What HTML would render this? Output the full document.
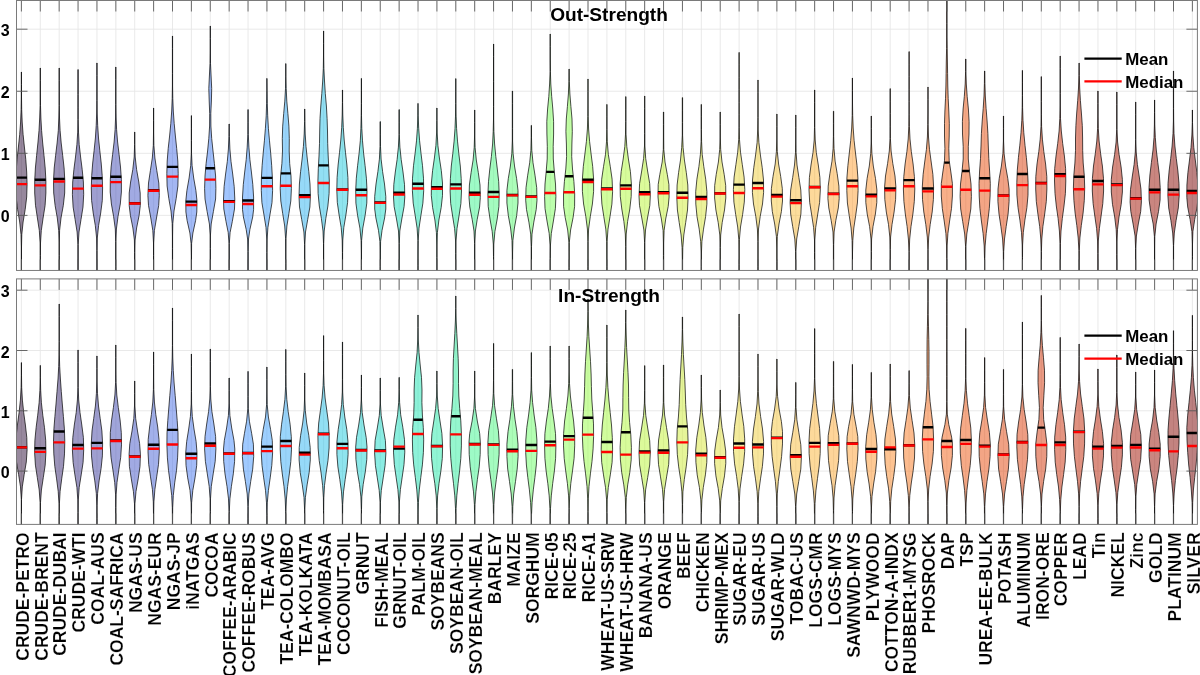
<!DOCTYPE html>
<html><head><meta charset="utf-8"><style>
html,body{margin:0;padding:0;background:#fff;width:1200px;height:675px;overflow:hidden}
svg{display:block;will-change:transform}
text{font-family:"Liberation Sans",sans-serif;font-weight:bold;fill:#000;stroke:#fff;stroke-width:0.2px;paint-order:normal}
.yt{stroke:none;font-size:16px;text-anchor:end}
.xl{font-size:17.5px;text-anchor:end}
.ti{stroke:none;font-size:19.1px;text-anchor:middle}
.lg{stroke:none;font-size:16.9px}
</style></head><body>
<svg width="1200" height="675" viewBox="0 0 1200 675">
<clipPath id="clipT"><rect x="16.5" y="0.5" width="1180.9" height="269.95"/></clipPath>
<path d="M21.40 0.50V270.45M40.29 0.50V270.45M59.17 0.50V270.45M78.06 0.50V270.45M96.95 0.50V270.45M115.84 0.50V270.45M134.72 0.50V270.45M153.61 0.50V270.45M172.50 0.50V270.45M191.38 0.50V270.45M210.27 0.50V270.45M229.16 0.50V270.45M248.04 0.50V270.45M266.93 0.50V270.45M285.82 0.50V270.45M304.70 0.50V270.45M323.59 0.50V270.45M342.48 0.50V270.45M361.37 0.50V270.45M380.25 0.50V270.45M399.14 0.50V270.45M418.03 0.50V270.45M436.91 0.50V270.45M455.80 0.50V270.45M474.69 0.50V270.45M493.57 0.50V270.45M512.46 0.50V270.45M531.35 0.50V270.45M550.24 0.50V270.45M569.12 0.50V270.45M588.01 0.50V270.45M606.90 0.50V270.45M625.78 0.50V270.45M644.67 0.50V270.45M663.56 0.50V270.45M682.45 0.50V270.45M701.33 0.50V270.45M720.22 0.50V270.45M739.11 0.50V270.45M757.99 0.50V270.45M776.88 0.50V270.45M795.77 0.50V270.45M814.65 0.50V270.45M833.54 0.50V270.45M852.43 0.50V270.45M871.31 0.50V270.45M890.20 0.50V270.45M909.09 0.50V270.45M927.98 0.50V270.45M946.86 0.50V270.45M965.75 0.50V270.45M984.64 0.50V270.45M1003.52 0.50V270.45M1022.41 0.50V270.45M1041.30 0.50V270.45M1060.19 0.50V270.45M1079.07 0.50V270.45M1097.96 0.50V270.45M1116.85 0.50V270.45M1135.73 0.50V270.45M1154.62 0.50V270.45M1173.51 0.50V270.45M1192.39 0.50V270.45M16.50 215.40H1197.40M16.50 153.33H1197.40M16.50 91.26H1197.40M16.50 29.19H1197.40" stroke="#e6e6e6" stroke-width="0.9" fill="none"/>
<g clip-path="url(#clipT)">
<path d="M21.5,72.0 L21.5,84.5 L21.5,97.0 L21.7,109.5 L22.2,122.0 L23.1,134.5 L24.4,147.0 L25.8,159.5 L26.7,172.0 L27.1,184.5 L26.7,197.0 L25.2,209.5 L23.1,222.0 L21.8,234.5 L21.5,247.0 L21.5,259.5 L21.5,272.0 L21.5,272.4 L21.3,272.4 L21.3,272.0 L21.3,259.5 L21.3,247.0 L21.0,234.5 L19.7,222.0 L17.6,209.5 L16.1,197.0 L15.7,184.5 L16.1,172.0 L17.0,159.5 L18.4,147.0 L19.7,134.5 L20.6,122.0 L21.1,109.5 L21.3,97.0 L21.3,84.5 L21.3,72.0Z" fill="#30123b" fill-opacity="0.5" stroke="#000" stroke-width="0.7" stroke-linejoin="round"/><line x1="15.83" y1="177.60" x2="26.97" y2="177.60" stroke="#000" stroke-width="2.4"/><line x1="15.73" y1="184.10" x2="27.07" y2="184.10" stroke="#f00" stroke-width="2.4"/>
<path d="M40.4,68.0 L40.4,80.5 L40.4,93.0 L40.5,105.5 L40.9,118.0 L41.6,130.5 L42.7,143.0 L44.0,155.5 L45.2,168.0 L45.9,180.5 L45.9,193.0 L45.1,205.5 L43.1,218.0 L41.3,230.5 L40.5,243.0 L40.4,255.5 L40.4,268.0 L40.4,272.4 L40.2,272.4 L40.2,268.0 L40.2,255.5 L40.1,243.0 L39.3,230.5 L37.4,218.0 L35.5,205.5 L34.7,193.0 L34.7,180.5 L35.4,168.0 L36.6,155.5 L37.9,143.0 L39.0,130.5 L39.7,118.0 L40.1,105.5 L40.2,93.0 L40.2,80.5 L40.2,68.0Z" fill="#351e58" fill-opacity="0.5" stroke="#000" stroke-width="0.7" stroke-linejoin="round"/><line x1="34.73" y1="179.70" x2="45.84" y2="179.70" stroke="#000" stroke-width="2.4"/><line x1="34.63" y1="185.40" x2="45.95" y2="185.40" stroke="#f00" stroke-width="2.4"/>
<path d="M59.3,68.0 L59.3,80.5 L59.3,93.0 L59.3,105.5 L59.5,118.0 L60.1,130.5 L61.2,143.0 L62.7,155.5 L64.1,168.0 L64.8,180.5 L64.7,193.0 L63.3,205.5 L61.0,218.0 L59.6,230.5 L59.3,243.0 L59.3,255.5 L59.3,268.0 L59.3,272.4 L59.1,272.4 L59.1,268.0 L59.1,255.5 L59.1,243.0 L58.7,230.5 L57.3,218.0 L55.1,205.5 L53.7,193.0 L53.5,180.5 L54.2,168.0 L55.6,155.5 L57.1,143.0 L58.3,130.5 L58.8,118.0 L59.1,105.5 L59.1,93.0 L59.1,80.5 L59.1,68.0Z" fill="#392a73" fill-opacity="0.5" stroke="#000" stroke-width="0.7" stroke-linejoin="round"/><line x1="53.59" y1="178.90" x2="64.76" y2="178.90" stroke="#000" stroke-width="2.4"/><line x1="53.53" y1="181.50" x2="64.82" y2="181.50" stroke="#f00" stroke-width="2.4"/>
<path d="M78.2,69.6 L78.2,82.1 L78.2,94.6 L78.2,107.1 L78.2,119.6 L78.5,132.1 L79.2,144.5 L80.6,157.0 L82.2,169.5 L83.4,182.0 L83.7,194.5 L83.0,207.0 L81.0,219.5 L79.0,232.0 L78.2,244.5 L78.2,257.0 L78.2,269.5 L78.2,272.4 L77.9,272.4 L77.9,269.5 L77.9,257.0 L77.9,244.5 L77.1,232.0 L75.1,219.5 L73.1,207.0 L72.4,194.5 L72.7,182.0 L73.9,169.5 L75.5,157.0 L76.9,144.5 L77.7,132.1 L77.9,119.6 L77.9,107.1 L77.9,94.6 L77.9,82.1 L77.9,69.6Z" fill="#3d358b" fill-opacity="0.5" stroke="#000" stroke-width="0.7" stroke-linejoin="round"/><line x1="72.99" y1="177.80" x2="83.13" y2="177.80" stroke="#000" stroke-width="2.4"/><line x1="72.42" y1="188.60" x2="83.70" y2="188.60" stroke="#f00" stroke-width="2.4"/>
<path d="M97.1,63.0 L97.1,75.5 L97.1,88.0 L97.1,100.5 L97.2,113.0 L97.7,125.5 L98.5,138.0 L99.8,150.5 L101.2,163.0 L102.2,175.5 L102.6,188.0 L102.3,200.5 L100.7,213.0 L98.6,225.5 L97.3,238.0 L97.1,250.5 L97.1,263.0 L97.1,272.4 L96.8,272.4 L96.8,263.0 L96.8,250.5 L96.6,238.0 L95.3,225.5 L93.2,213.0 L91.6,200.5 L91.3,188.0 L91.7,175.5 L92.7,163.0 L94.1,150.5 L95.4,138.0 L96.2,125.5 L96.7,113.0 L96.8,100.5 L96.8,88.0 L96.8,75.5 L96.8,63.0Z" fill="#4040a2" fill-opacity="0.5" stroke="#000" stroke-width="0.7" stroke-linejoin="round"/><line x1="91.51" y1="178.20" x2="102.39" y2="178.20" stroke="#000" stroke-width="2.4"/><line x1="91.29" y1="185.80" x2="102.60" y2="185.80" stroke="#f00" stroke-width="2.4"/>
<path d="M115.9,67.0 L115.9,79.5 L115.9,92.0 L115.9,104.5 L116.1,117.0 L116.6,129.5 L117.6,142.0 L119.1,154.5 L120.5,167.0 L121.4,179.5 L121.4,192.0 L120.3,204.0 L118.0,216.5 L116.4,229.0 L115.9,241.5 L115.9,254.0 L115.9,266.5 L115.9,272.4 L115.7,272.4 L115.7,266.5 L115.7,254.0 L115.7,241.5 L115.3,229.0 L113.6,216.5 L111.4,204.0 L110.2,192.0 L110.3,179.5 L111.1,167.0 L112.6,154.5 L114.1,142.0 L115.1,129.5 L115.6,117.0 L115.7,104.5 L115.7,92.0 L115.7,79.5 L115.7,67.0Z" fill="#424bb5" fill-opacity="0.5" stroke="#000" stroke-width="0.7" stroke-linejoin="round"/><line x1="110.37" y1="176.80" x2="121.30" y2="176.80" stroke="#000" stroke-width="2.4"/><line x1="110.20" y1="182.10" x2="121.47" y2="182.10" stroke="#f00" stroke-width="2.4"/>
<path d="M134.8,132.0 L134.8,144.5 L135.2,157.0 L136.6,169.5 L138.8,182.0 L140.2,193.0 L140.3,205.5 L139.1,215.5 L136.6,228.0 L135.1,240.0 L134.8,252.5 L134.8,265.0 L134.8,272.4 L134.6,272.4 L134.6,265.0 L134.6,252.5 L134.4,240.0 L132.9,228.0 L130.4,215.5 L129.2,205.5 L129.2,193.0 L130.6,182.0 L132.8,169.5 L134.2,157.0 L134.6,144.5 L134.6,132.0Z" fill="#4456c7" fill-opacity="0.5" stroke="#000" stroke-width="0.7" stroke-linejoin="round"/><line x1="129.09" y1="203.20" x2="140.35" y2="203.20" stroke="#000" stroke-width="2.4"/><line x1="129.10" y1="203.50" x2="140.34" y2="203.50" stroke="#f00" stroke-width="2.4"/>
<path d="M153.7,108.0 L153.7,120.5 L153.7,133.0 L153.9,145.5 L154.9,158.0 L156.8,170.5 L158.8,183.0 L159.3,195.5 L158.7,205.5 L156.5,218.0 L154.4,230.5 L153.7,243.0 L153.7,255.5 L153.7,268.0 L153.7,272.4 L153.5,272.4 L153.5,268.0 L153.5,255.5 L153.5,243.0 L152.8,230.5 L150.8,218.0 L148.5,205.5 L147.9,195.5 L148.5,183.0 L150.4,170.5 L152.3,158.0 L153.3,145.5 L153.5,133.0 L153.5,120.5 L153.5,108.0Z" fill="#4661d6" fill-opacity="0.5" stroke="#000" stroke-width="0.7" stroke-linejoin="round"/><line x1="147.97" y1="190.20" x2="159.25" y2="190.20" stroke="#000" stroke-width="2.4"/><line x1="147.96" y1="190.80" x2="159.26" y2="190.80" stroke="#f00" stroke-width="2.4"/>
<path d="M172.6,36.0 L172.6,48.5 L172.6,61.0 L172.6,73.5 L172.6,86.0 L172.8,98.5 L173.3,111.0 L174.2,123.5 L175.4,136.0 L176.7,148.5 L177.8,161.0 L178.2,173.5 L177.9,186.0 L176.2,198.5 L174.0,211.0 L172.8,223.5 L172.6,236.0 L172.6,248.5 L172.6,261.0 L172.6,272.4 L172.4,272.4 L172.4,261.0 L172.4,248.5 L172.4,236.0 L172.2,223.5 L171.0,211.0 L168.8,198.5 L167.1,186.0 L166.8,173.5 L167.2,161.0 L168.2,148.5 L169.6,136.0 L170.8,123.5 L171.7,111.0 L172.2,98.5 L172.4,86.0 L172.4,73.5 L172.4,61.0 L172.4,48.5 L172.4,36.0Z" fill="#476ee6" fill-opacity="0.5" stroke="#000" stroke-width="0.7" stroke-linejoin="round"/><line x1="166.97" y1="166.90" x2="178.02" y2="166.90" stroke="#000" stroke-width="2.4"/><line x1="166.83" y1="176.60" x2="178.17" y2="176.60" stroke="#f00" stroke-width="2.4"/>
<path d="M191.5,115.6 L191.5,128.1 L191.5,140.6 L191.5,153.1 L192.1,165.6 L193.7,178.0 L195.9,190.5 L197.0,201.0 L196.8,212.0 L195.6,220.5 L192.9,233.0 L191.6,243.5 L191.5,256.0 L191.5,268.5 L191.5,272.4 L191.3,272.4 L191.3,268.5 L191.3,256.0 L191.1,243.5 L189.9,233.0 L187.1,220.5 L185.9,212.0 L185.8,201.0 L186.9,190.5 L189.1,178.0 L190.7,165.6 L191.3,153.1 L191.3,140.6 L191.3,128.1 L191.3,115.6Z" fill="#4778f0" fill-opacity="0.5" stroke="#000" stroke-width="0.7" stroke-linejoin="round"/><line x1="185.77" y1="201.60" x2="197.00" y2="201.60" stroke="#000" stroke-width="2.4"/><line x1="185.71" y1="205.00" x2="197.05" y2="205.00" stroke="#f00" stroke-width="2.4"/>
<path d="M210.4,26.0 L210.4,38.5 L210.4,51.0 L210.5,63.5 L211.1,76.0 L211.7,88.5 L211.4,101.0 L210.8,113.5 L210.9,126.0 L211.7,138.5 L213.0,151.0 L214.4,163.5 L215.6,176.0 L215.9,188.5 L215.6,199.0 L213.4,211.5 L211.2,224.0 L210.4,236.0 L210.4,248.5 L210.4,261.0 L210.4,272.4 L210.2,272.4 L210.2,261.0 L210.2,248.5 L210.2,236.0 L209.4,224.0 L207.1,211.5 L205.0,199.0 L204.6,188.5 L205.0,176.0 L206.1,163.5 L207.6,151.0 L208.8,138.5 L209.6,126.0 L209.7,113.5 L209.2,101.0 L208.8,88.5 L209.4,76.0 L210.0,63.5 L210.2,51.0 L210.2,38.5 L210.2,26.0Z" fill="#4682f8" fill-opacity="0.5" stroke="#000" stroke-width="0.7" stroke-linejoin="round"/><line x1="205.60" y1="168.30" x2="214.94" y2="168.30" stroke="#000" stroke-width="2.4"/><line x1="204.79" y1="179.60" x2="215.75" y2="179.60" stroke="#f00" stroke-width="2.4"/>
<path d="M229.3,124.0 L229.4,136.5 L229.9,149.0 L231.0,161.5 L232.7,174.0 L234.2,186.5 L234.8,199.0 L234.5,209.0 L232.3,221.5 L230.1,232.5 L229.3,243.5 L229.3,256.0 L229.3,268.5 L229.3,272.4 L229.0,272.4 L229.0,268.5 L229.0,256.0 L229.0,243.5 L228.2,232.5 L226.0,221.5 L223.8,209.0 L223.5,199.0 L224.1,186.5 L225.6,174.0 L227.3,161.5 L228.4,149.0 L228.9,136.5 L229.0,124.0Z" fill="#458cfd" fill-opacity="0.5" stroke="#000" stroke-width="0.7" stroke-linejoin="round"/><line x1="223.49" y1="201.20" x2="234.83" y2="201.20" stroke="#000" stroke-width="2.4"/><line x1="223.49" y1="201.90" x2="234.83" y2="201.90" stroke="#f00" stroke-width="2.4"/>
<path d="M248.2,109.6 L248.2,122.1 L248.3,134.6 L248.9,147.1 L249.9,159.6 L251.4,172.0 L252.8,184.5 L253.6,197.0 L253.6,209.5 L252.7,217.0 L249.9,229.5 L248.5,239.0 L248.2,251.5 L248.2,264.0 L248.2,272.4 L247.9,272.4 L247.9,264.0 L247.9,251.5 L247.6,239.0 L246.2,229.5 L243.4,217.0 L242.5,209.5 L242.5,197.0 L243.3,184.5 L244.7,172.0 L246.2,159.6 L247.2,147.1 L247.8,134.6 L247.9,122.1 L247.9,109.6Z" fill="#4196ff" fill-opacity="0.5" stroke="#000" stroke-width="0.7" stroke-linejoin="round"/><line x1="242.39" y1="200.50" x2="253.70" y2="200.50" stroke="#000" stroke-width="2.4"/><line x1="242.37" y1="204.00" x2="253.71" y2="204.00" stroke="#f00" stroke-width="2.4"/>
<path d="M267.0,78.4 L267.1,90.9 L267.3,103.3 L267.7,115.8 L268.4,128.3 L269.5,140.8 L270.7,153.2 L271.7,165.7 L272.4,178.2 L272.6,190.6 L272.0,202.6 L269.9,215.1 L267.9,227.6 L267.1,240.0 L267.0,252.5 L267.0,265.0 L267.0,272.4 L266.8,272.4 L266.8,265.0 L266.8,252.5 L266.8,240.0 L266.0,227.6 L264.0,215.1 L261.9,202.6 L261.3,190.6 L261.4,178.2 L262.1,165.7 L263.2,153.2 L264.4,140.8 L265.4,128.3 L266.2,115.8 L266.6,103.3 L266.8,90.9 L266.8,78.4Z" fill="#3ba0fd" fill-opacity="0.5" stroke="#000" stroke-width="0.7" stroke-linejoin="round"/><line x1="261.44" y1="177.90" x2="272.42" y2="177.90" stroke="#000" stroke-width="2.4"/><line x1="261.27" y1="186.30" x2="272.59" y2="186.30" stroke="#f00" stroke-width="2.4"/>
<path d="M285.9,63.6 L285.9,76.1 L286.2,88.6 L286.8,101.1 L287.9,113.6 L288.9,126.1 L289.3,138.5 L289.2,151.0 L289.7,163.5 L291.0,176.0 L291.4,188.5 L290.8,201.0 L288.9,213.5 L286.9,226.0 L286.0,238.5 L285.9,251.0 L285.9,263.5 L285.9,272.4 L285.7,272.4 L285.7,263.5 L285.7,251.0 L285.6,238.5 L284.7,226.0 L282.7,213.5 L280.8,201.0 L280.2,188.5 L280.6,176.0 L281.9,163.5 L282.5,151.0 L282.3,138.5 L282.7,126.1 L283.7,113.6 L284.8,101.1 L285.5,88.6 L285.7,76.1 L285.7,63.6Z" fill="#35abf8" fill-opacity="0.5" stroke="#000" stroke-width="0.7" stroke-linejoin="round"/><line x1="280.85" y1="173.40" x2="290.78" y2="173.40" stroke="#000" stroke-width="2.4"/><line x1="280.15" y1="185.80" x2="291.49" y2="185.80" stroke="#f00" stroke-width="2.4"/>
<path d="M304.8,109.0 L304.9,121.5 L305.2,134.0 L306.0,146.5 L307.3,159.0 L308.8,171.5 L310.0,184.0 L310.4,196.5 L309.9,207.0 L307.7,219.5 L305.5,232.0 L304.8,244.5 L304.8,257.0 L304.8,269.5 L304.8,272.4 L304.6,272.4 L304.6,269.5 L304.6,257.0 L304.6,244.5 L303.9,232.0 L301.7,219.5 L299.5,207.0 L299.0,196.5 L299.4,184.0 L300.6,171.5 L302.1,159.0 L303.4,146.5 L304.2,134.0 L304.6,121.5 L304.6,109.0Z" fill="#2eb4f2" fill-opacity="0.5" stroke="#000" stroke-width="0.7" stroke-linejoin="round"/><line x1="299.04" y1="195.20" x2="310.37" y2="195.20" stroke="#000" stroke-width="2.4"/><line x1="299.04" y1="197.10" x2="310.37" y2="197.10" stroke="#f00" stroke-width="2.4"/>
<path d="M323.7,31.0 L323.7,43.5 L323.7,56.0 L323.9,68.5 L324.5,81.0 L325.3,93.5 L326.4,106.0 L327.1,118.5 L327.5,131.0 L327.7,143.5 L328.2,156.0 L328.8,168.5 L329.3,181.0 L329.1,193.5 L327.9,206.0 L325.8,218.5 L324.2,231.0 L323.7,243.5 L323.7,256.0 L323.7,268.5 L323.7,272.4 L323.5,272.4 L323.5,268.5 L323.5,256.0 L323.5,243.5 L323.0,231.0 L321.4,218.5 L319.3,206.0 L318.1,193.5 L317.9,181.0 L318.3,168.5 L319.0,156.0 L319.5,143.5 L319.7,131.0 L320.0,118.5 L320.8,106.0 L321.8,93.5 L322.7,81.0 L323.3,68.5 L323.5,56.0 L323.5,43.5 L323.5,31.0Z" fill="#25c0e7" fill-opacity="0.5" stroke="#000" stroke-width="0.7" stroke-linejoin="round"/><line x1="318.50" y1="165.40" x2="328.68" y2="165.40" stroke="#000" stroke-width="2.4"/><line x1="317.92" y1="183.00" x2="329.26" y2="183.00" stroke="#f00" stroke-width="2.4"/>
<path d="M342.6,90.0 L342.6,102.5 L342.8,115.0 L343.3,127.5 L344.2,140.0 L345.5,152.5 L346.9,165.0 L347.9,177.5 L348.1,190.0 L347.6,202.5 L345.9,215.0 L343.8,227.5 L342.8,240.0 L342.6,252.5 L342.6,265.0 L342.6,272.4 L342.4,272.4 L342.4,265.0 L342.4,252.5 L342.2,240.0 L341.2,227.5 L339.1,215.0 L337.3,202.5 L336.8,190.0 L337.1,177.5 L338.1,165.0 L339.5,152.5 L340.8,140.0 L341.7,127.5 L342.2,115.0 L342.4,102.5 L342.4,90.0Z" fill="#1fc9dd" fill-opacity="0.5" stroke="#000" stroke-width="0.7" stroke-linejoin="round"/><line x1="336.81" y1="189.50" x2="348.15" y2="189.50" stroke="#000" stroke-width="2.4"/><line x1="336.81" y1="189.70" x2="348.15" y2="189.70" stroke="#f00" stroke-width="2.4"/>
<path d="M361.5,78.4 L361.5,90.9 L361.5,103.3 L361.5,115.8 L361.8,128.3 L362.5,140.8 L363.6,153.2 L365.1,165.7 L366.4,178.2 L367.0,190.6 L366.8,203.1 L365.1,215.6 L362.8,228.1 L361.6,240.5 L361.5,253.0 L361.5,265.5 L361.5,272.4 L361.3,272.4 L361.3,265.5 L361.3,253.0 L361.1,240.5 L359.9,228.1 L357.6,215.6 L355.9,203.1 L355.7,190.6 L356.3,178.2 L357.6,165.7 L359.1,153.2 L360.3,140.8 L360.9,128.3 L361.2,115.8 L361.3,103.3 L361.3,90.9 L361.3,78.4Z" fill="#1ad2d2" fill-opacity="0.5" stroke="#000" stroke-width="0.7" stroke-linejoin="round"/><line x1="355.73" y1="189.70" x2="367.00" y2="189.70" stroke="#000" stroke-width="2.4"/><line x1="355.70" y1="195.20" x2="367.03" y2="195.20" stroke="#f00" stroke-width="2.4"/>
<path d="M380.4,121.6 L380.4,134.1 L380.5,146.6 L381.1,159.1 L382.6,171.6 L384.5,184.0 L385.8,196.5 L385.8,209.0 L384.6,218.0 L382.0,230.5 L380.6,241.5 L380.4,254.0 L380.4,266.5 L380.4,272.4 L380.1,272.4 L380.1,266.5 L380.1,254.0 L379.9,241.5 L378.5,230.5 L375.9,218.0 L374.7,209.0 L374.7,196.5 L376.0,184.0 L377.9,171.6 L379.4,159.1 L380.0,146.6 L380.1,134.1 L380.1,121.6Z" fill="#18d9c8" fill-opacity="0.5" stroke="#000" stroke-width="0.7" stroke-linejoin="round"/><line x1="374.58" y1="202.50" x2="385.92" y2="202.50" stroke="#000" stroke-width="2.4"/><line x1="374.58" y1="202.90" x2="385.92" y2="202.90" stroke="#f00" stroke-width="2.4"/>
<path d="M399.3,109.6 L399.3,122.1 L399.3,134.6 L399.9,147.1 L401.2,159.6 L403.0,172.0 L404.5,184.5 L404.8,197.0 L404.1,206.5 L401.8,219.0 L399.8,231.0 L399.3,243.5 L399.3,256.0 L399.3,268.5 L399.3,272.4 L399.0,272.4 L399.0,268.5 L399.0,256.0 L399.0,243.5 L398.5,231.0 L396.5,219.0 L394.1,206.5 L393.5,197.0 L393.8,184.5 L395.3,172.0 L397.1,159.6 L398.4,147.1 L399.0,134.6 L399.0,122.1 L399.0,109.6Z" fill="#18e0bd" fill-opacity="0.5" stroke="#000" stroke-width="0.7" stroke-linejoin="round"/><line x1="393.47" y1="192.80" x2="404.81" y2="192.80" stroke="#000" stroke-width="2.4"/><line x1="393.47" y1="194.50" x2="404.81" y2="194.50" stroke="#f00" stroke-width="2.4"/>
<path d="M418.1,103.4 L418.2,115.9 L418.7,128.3 L419.6,140.8 L421.0,153.3 L422.5,165.7 L423.5,178.2 L423.7,190.7 L422.9,203.1 L420.9,215.6 L419.0,228.1 L418.2,240.5 L418.1,253.0 L418.1,265.5 L418.1,272.4 L417.9,272.4 L417.9,265.5 L417.9,253.0 L417.9,240.5 L417.1,228.1 L415.2,215.6 L413.2,203.1 L412.4,190.7 L412.5,178.2 L413.5,165.7 L415.1,153.3 L416.5,140.8 L417.4,128.3 L417.8,115.9 L417.9,103.4Z" fill="#1ce6b4" fill-opacity="0.5" stroke="#000" stroke-width="0.7" stroke-linejoin="round"/><line x1="412.38" y1="183.70" x2="423.68" y2="183.70" stroke="#000" stroke-width="2.4"/><line x1="412.36" y1="188.50" x2="423.69" y2="188.50" stroke="#f00" stroke-width="2.4"/>
<path d="M437.0,108.0 L437.0,120.5 L437.2,133.0 L437.9,145.5 L439.4,158.0 L441.3,170.5 L442.5,183.0 L442.5,195.5 L441.2,207.5 L438.9,220.0 L437.4,232.5 L437.0,245.0 L437.0,257.5 L437.0,270.0 L437.0,272.4 L436.8,272.4 L436.8,270.0 L436.8,257.5 L436.8,245.0 L436.4,232.5 L434.9,220.0 L432.6,207.5 L431.3,195.5 L431.4,183.0 L432.6,170.5 L434.4,158.0 L435.9,145.5 L436.6,133.0 L436.8,120.5 L436.8,108.0Z" fill="#22ebaa" fill-opacity="0.5" stroke="#000" stroke-width="0.7" stroke-linejoin="round"/><line x1="431.25" y1="187.30" x2="442.58" y2="187.30" stroke="#000" stroke-width="2.4"/><line x1="431.24" y1="188.70" x2="442.58" y2="188.70" stroke="#f00" stroke-width="2.4"/>
<path d="M455.9,78.6 L455.9,91.1 L455.9,103.6 L456.1,116.1 L456.6,128.6 L457.5,141.1 L458.8,153.5 L460.3,166.0 L461.2,178.5 L461.5,191.0 L460.9,203.5 L459.0,216.0 L457.0,228.5 L456.0,241.0 L455.9,253.5 L455.9,266.0 L455.9,272.4 L455.7,272.4 L455.7,266.0 L455.7,253.5 L455.6,241.0 L454.6,228.5 L452.6,216.0 L450.7,203.5 L450.1,191.0 L450.4,178.5 L451.3,166.0 L452.8,153.5 L454.1,141.1 L455.0,128.6 L455.5,116.1 L455.7,103.6 L455.7,91.1 L455.7,78.6Z" fill="#2cf09e" fill-opacity="0.5" stroke="#000" stroke-width="0.7" stroke-linejoin="round"/><line x1="450.17" y1="184.40" x2="461.43" y2="184.40" stroke="#000" stroke-width="2.4"/><line x1="450.13" y1="188.50" x2="461.47" y2="188.50" stroke="#f00" stroke-width="2.4"/>
<path d="M474.8,110.0 L474.8,122.5 L474.8,135.0 L475.1,147.5 L476.3,160.0 L478.3,172.5 L480.0,185.0 L480.3,197.5 L479.6,207.0 L477.2,219.5 L475.4,231.0 L474.8,243.5 L474.8,256.0 L474.8,268.5 L474.8,272.4 L474.6,272.4 L474.6,268.5 L474.6,256.0 L474.6,243.5 L474.0,231.0 L472.2,219.5 L469.8,207.0 L469.0,197.5 L469.4,185.0 L471.1,172.5 L473.1,160.0 L474.2,147.5 L474.6,135.0 L474.6,122.5 L474.6,110.0Z" fill="#3cf58e" fill-opacity="0.5" stroke="#000" stroke-width="0.7" stroke-linejoin="round"/><line x1="469.02" y1="192.80" x2="480.35" y2="192.80" stroke="#000" stroke-width="2.4"/><line x1="469.02" y1="194.70" x2="480.36" y2="194.70" stroke="#f00" stroke-width="2.4"/>
<path d="M493.7,44.0 L493.7,56.5 L493.7,69.0 L493.7,81.5 L493.7,94.0 L493.7,106.5 L493.7,119.0 L493.9,131.5 L494.6,144.0 L495.8,156.5 L497.3,169.0 L498.7,181.5 L499.2,194.0 L498.9,206.5 L497.2,219.0 L494.9,231.5 L493.8,244.0 L493.7,256.5 L493.7,269.0 L493.7,272.4 L493.5,272.4 L493.5,269.0 L493.5,256.5 L493.3,244.0 L492.2,231.5 L490.0,219.0 L488.2,206.5 L487.9,194.0 L488.5,181.5 L489.8,169.0 L491.4,156.5 L492.6,144.0 L493.2,131.5 L493.5,119.0 L493.5,106.5 L493.5,94.0 L493.5,81.5 L493.5,69.0 L493.5,56.5 L493.5,44.0Z" fill="#4af880" fill-opacity="0.5" stroke="#000" stroke-width="0.7" stroke-linejoin="round"/><line x1="487.95" y1="192.00" x2="499.20" y2="192.00" stroke="#000" stroke-width="2.4"/><line x1="487.91" y1="196.90" x2="499.24" y2="196.90" stroke="#f00" stroke-width="2.4"/>
<path d="M512.6,91.0 L512.6,103.5 L512.6,116.0 L512.6,128.5 L512.6,141.0 L513.1,153.5 L514.5,166.0 L516.6,178.5 L518.0,190.5 L518.0,203.0 L516.7,215.5 L514.4,228.0 L512.9,240.5 L512.6,253.0 L512.6,265.5 L512.6,272.4 L512.3,272.4 L512.3,265.5 L512.3,253.0 L512.0,240.5 L510.6,228.0 L508.3,215.5 L506.9,203.0 L506.9,190.5 L508.3,178.5 L510.4,166.0 L511.8,153.5 L512.3,141.0 L512.3,128.5 L512.3,116.0 L512.3,103.5 L512.3,91.0Z" fill="#59fb73" fill-opacity="0.5" stroke="#000" stroke-width="0.7" stroke-linejoin="round"/><line x1="506.80" y1="195.00" x2="518.13" y2="195.00" stroke="#000" stroke-width="2.4"/><line x1="506.79" y1="195.40" x2="518.13" y2="195.40" stroke="#f00" stroke-width="2.4"/>
<path d="M531.5,125.4 L531.5,137.9 L531.8,150.3 L533.0,162.8 L535.0,175.2 L536.7,187.7 L537.0,200.2 L536.2,209.6 L533.8,222.1 L532.0,234.1 L531.5,246.5 L531.5,259.0 L531.5,271.5 L531.5,272.4 L531.2,272.4 L531.2,271.5 L531.2,259.0 L531.2,246.5 L530.7,234.1 L528.9,222.1 L526.5,209.6 L525.7,200.2 L526.0,187.7 L527.7,175.2 L529.7,162.8 L530.9,150.3 L531.2,137.9 L531.2,125.4Z" fill="#69fd66" fill-opacity="0.5" stroke="#000" stroke-width="0.7" stroke-linejoin="round"/><line x1="525.68" y1="196.50" x2="537.02" y2="196.50" stroke="#000" stroke-width="2.4"/><line x1="525.68" y1="196.90" x2="537.02" y2="196.90" stroke="#f00" stroke-width="2.4"/>
<path d="M550.3,34.0 L550.3,46.5 L550.3,59.0 L550.4,71.5 L550.8,84.0 L551.7,96.5 L552.8,109.0 L553.6,121.5 L553.6,134.0 L553.2,146.5 L553.3,159.0 L554.3,171.5 L555.5,184.0 L555.9,196.5 L555.4,208.5 L553.4,221.0 L551.3,233.5 L550.4,246.0 L550.3,258.5 L550.3,271.0 L550.3,272.4 L550.1,272.4 L550.1,271.0 L550.1,258.5 L550.1,246.0 L549.2,233.5 L547.0,221.0 L545.0,208.5 L544.6,196.5 L545.0,184.0 L546.2,171.5 L547.2,159.0 L547.3,146.5 L546.9,134.0 L546.8,121.5 L547.6,109.0 L548.8,96.5 L549.6,84.0 L550.1,71.5 L550.1,59.0 L550.1,46.5 L550.1,34.0Z" fill="#79fe59" fill-opacity="0.5" stroke="#000" stroke-width="0.7" stroke-linejoin="round"/><line x1="546.12" y1="171.90" x2="554.35" y2="171.90" stroke="#000" stroke-width="2.4"/><line x1="544.59" y1="193.00" x2="555.88" y2="193.00" stroke="#f00" stroke-width="2.4"/>
<path d="M569.2,69.0 L569.3,81.5 L569.9,94.0 L570.9,106.5 L572.0,119.0 L572.3,131.5 L571.9,144.0 L571.7,156.5 L572.5,169.0 L573.9,181.5 L574.7,194.0 L574.6,206.5 L573.1,217.5 L570.6,230.0 L569.3,242.5 L569.2,255.0 L569.2,267.5 L569.2,272.4 L569.0,272.4 L569.0,267.5 L569.0,255.0 L568.9,242.5 L567.7,230.0 L565.2,217.5 L563.6,206.5 L563.5,194.0 L564.4,181.5 L565.8,169.0 L566.6,156.5 L566.4,144.0 L565.9,131.5 L566.3,119.0 L567.4,106.5 L568.4,94.0 L568.9,81.5 L569.0,69.0Z" fill="#88ff4e" fill-opacity="0.5" stroke="#000" stroke-width="0.7" stroke-linejoin="round"/><line x1="564.97" y1="176.20" x2="573.27" y2="176.20" stroke="#000" stroke-width="2.4"/><line x1="563.57" y1="192.30" x2="574.67" y2="192.30" stroke="#f00" stroke-width="2.4"/>
<path d="M588.1,79.0 L588.1,91.5 L588.1,104.0 L588.2,116.5 L588.6,129.0 L589.6,141.5 L591.1,154.0 L592.7,166.5 L593.6,179.0 L593.6,191.5 L592.4,204.0 L590.3,216.5 L588.6,229.0 L588.1,241.5 L588.1,254.0 L588.1,266.5 L588.1,272.4 L587.9,272.4 L587.9,266.5 L587.9,254.0 L587.9,241.5 L587.4,229.0 L585.8,216.5 L583.6,204.0 L582.4,191.5 L582.4,179.0 L583.3,166.5 L584.9,154.0 L586.4,141.5 L587.4,129.0 L587.8,116.5 L587.9,104.0 L587.9,91.5 L587.9,79.0Z" fill="#96fe44" fill-opacity="0.5" stroke="#000" stroke-width="0.7" stroke-linejoin="round"/><line x1="582.41" y1="179.80" x2="593.61" y2="179.80" stroke="#000" stroke-width="2.4"/><line x1="582.36" y1="182.00" x2="593.66" y2="182.00" stroke="#f00" stroke-width="2.4"/>
<path d="M607.0,104.4 L607.0,116.9 L607.0,129.3 L607.3,141.8 L608.3,154.3 L610.3,166.7 L612.1,179.2 L612.6,191.7 L611.9,204.1 L610.0,216.6 L608.0,229.1 L607.1,241.5 L607.0,254.0 L607.0,266.5 L607.0,272.4 L606.8,272.4 L606.8,266.5 L606.8,254.0 L606.7,241.5 L605.8,229.1 L603.8,216.6 L601.9,204.1 L601.2,191.7 L601.7,179.2 L603.5,166.7 L605.5,154.3 L606.5,141.8 L606.8,129.3 L606.8,116.9 L606.8,104.4Z" fill="#a4fc3c" fill-opacity="0.5" stroke="#000" stroke-width="0.7" stroke-linejoin="round"/><line x1="601.23" y1="188.50" x2="612.57" y2="188.50" stroke="#000" stroke-width="2.4"/><line x1="601.23" y1="189.20" x2="612.57" y2="189.20" stroke="#f00" stroke-width="2.4"/>
<path d="M625.9,96.6 L625.9,109.1 L625.9,121.6 L626.0,134.1 L626.8,146.6 L628.4,159.0 L630.4,171.5 L631.4,184.0 L631.2,196.5 L629.8,209.0 L627.6,221.5 L626.2,234.0 L625.9,246.5 L625.9,259.0 L625.9,271.5 L625.9,272.4 L625.7,272.4 L625.7,271.5 L625.7,259.0 L625.7,246.5 L625.3,234.0 L623.9,221.5 L621.8,209.0 L620.3,196.5 L620.1,184.0 L621.2,171.5 L623.2,159.0 L624.8,146.6 L625.5,134.1 L625.7,121.6 L625.7,109.1 L625.7,96.6Z" fill="#affa37" fill-opacity="0.5" stroke="#000" stroke-width="0.7" stroke-linejoin="round"/><line x1="620.12" y1="185.40" x2="631.45" y2="185.40" stroke="#000" stroke-width="2.4"/><line x1="620.12" y1="188.70" x2="631.45" y2="188.70" stroke="#f00" stroke-width="2.4"/>
<path d="M644.8,96.0 L644.8,108.5 L644.8,121.0 L644.8,133.5 L644.9,146.0 L645.7,158.5 L647.6,171.0 L649.7,183.5 L650.3,196.0 L649.8,205.5 L647.5,218.0 L645.5,230.0 L644.8,242.5 L644.8,255.0 L644.8,267.5 L644.8,272.4 L644.6,272.4 L644.6,267.5 L644.6,255.0 L644.6,242.5 L643.9,230.0 L641.8,218.0 L639.5,205.5 L639.0,196.0 L639.6,183.5 L641.7,171.0 L643.6,158.5 L644.5,146.0 L644.6,133.5 L644.6,121.0 L644.6,108.5 L644.6,96.0Z" fill="#b9f635" fill-opacity="0.5" stroke="#000" stroke-width="0.7" stroke-linejoin="round"/><line x1="639.01" y1="192.30" x2="650.33" y2="192.30" stroke="#000" stroke-width="2.4"/><line x1="639.00" y1="194.20" x2="650.34" y2="194.20" stroke="#f00" stroke-width="2.4"/>
<path d="M663.7,112.0 L663.7,124.5 L663.7,137.0 L663.8,149.5 L665.0,162.0 L667.3,174.5 L668.9,184.5 L669.1,197.0 L668.2,206.5 L665.7,219.0 L664.1,230.5 L663.7,243.0 L663.7,255.5 L663.7,268.0 L663.7,272.4 L663.4,272.4 L663.4,268.0 L663.4,255.5 L663.4,243.0 L663.1,230.5 L661.4,219.0 L658.9,206.5 L658.0,197.0 L658.2,184.5 L659.8,174.5 L662.2,162.0 L663.3,149.5 L663.4,137.0 L663.4,124.5 L663.4,112.0Z" fill="#c3f134" fill-opacity="0.5" stroke="#000" stroke-width="0.7" stroke-linejoin="round"/><line x1="657.89" y1="192.30" x2="669.23" y2="192.30" stroke="#000" stroke-width="2.4"/><line x1="657.89" y1="193.30" x2="669.22" y2="193.30" stroke="#f00" stroke-width="2.4"/>
<path d="M682.6,97.6 L682.6,110.1 L682.6,122.6 L682.6,135.1 L683.1,147.6 L684.4,160.0 L686.3,172.5 L687.8,185.0 L688.1,197.5 L687.5,210.0 L685.7,222.5 L683.8,235.0 L682.8,247.5 L682.6,260.0 L682.6,272.4 L682.3,272.4 L682.3,260.0 L682.1,247.5 L681.1,235.0 L679.2,222.5 L677.4,210.0 L676.8,197.5 L677.1,185.0 L678.6,172.5 L680.5,160.0 L681.7,147.6 L682.3,135.1 L682.3,122.6 L682.3,110.1 L682.3,97.6Z" fill="#cdec34" fill-opacity="0.5" stroke="#000" stroke-width="0.7" stroke-linejoin="round"/><line x1="676.78" y1="192.80" x2="688.11" y2="192.80" stroke="#000" stroke-width="2.4"/><line x1="676.79" y1="197.80" x2="688.10" y2="197.80" stroke="#f00" stroke-width="2.4"/>
<path d="M701.4,104.4 L701.4,116.9 L701.4,129.3 L701.6,141.8 L702.2,154.3 L703.8,166.7 L705.7,179.2 L706.9,191.7 L706.9,204.1 L705.6,216.6 L703.5,229.1 L701.9,241.5 L701.4,254.0 L701.4,266.5 L701.4,272.4 L701.2,272.4 L701.2,266.5 L701.2,254.0 L700.7,241.5 L699.2,229.1 L697.0,216.6 L695.8,204.1 L695.7,191.7 L696.9,179.2 L698.9,166.7 L700.4,154.3 L701.1,141.8 L701.2,129.3 L701.2,116.9 L701.2,104.4Z" fill="#d7e535" fill-opacity="0.5" stroke="#000" stroke-width="0.7" stroke-linejoin="round"/><line x1="695.66" y1="196.90" x2="707.00" y2="196.90" stroke="#000" stroke-width="2.4"/><line x1="695.67" y1="199.00" x2="706.99" y2="199.00" stroke="#f00" stroke-width="2.4"/>
<path d="M720.3,112.0 L720.3,124.5 L720.3,137.0 L720.7,149.5 L722.0,162.0 L724.2,174.5 L725.7,185.5 L725.8,198.0 L724.5,210.0 L722.2,222.5 L720.7,235.0 L720.3,247.5 L720.3,260.0 L720.3,272.4 L720.1,272.4 L720.1,260.0 L720.1,247.5 L719.8,235.0 L718.2,222.5 L715.9,210.0 L714.6,198.0 L714.7,185.5 L716.2,174.5 L718.4,162.0 L719.7,149.5 L720.1,137.0 L720.1,124.5 L720.1,112.0Z" fill="#dfdf37" fill-opacity="0.5" stroke="#000" stroke-width="0.7" stroke-linejoin="round"/><line x1="714.55" y1="193.30" x2="725.89" y2="193.30" stroke="#000" stroke-width="2.4"/><line x1="714.55" y1="193.50" x2="725.88" y2="193.50" stroke="#f00" stroke-width="2.4"/>
<path d="M739.2,52.4 L739.2,64.9 L739.2,77.3 L739.2,89.8 L739.2,102.3 L739.2,114.8 L739.2,127.2 L739.5,139.7 L740.5,152.2 L742.3,164.7 L744.1,177.1 L744.8,189.6 L744.3,202.1 L742.6,214.6 L740.5,227.0 L739.4,239.5 L739.2,252.0 L739.2,264.5 L739.2,272.4 L739.0,272.4 L739.0,264.5 L739.0,252.0 L738.8,239.5 L737.7,227.0 L735.7,214.6 L733.9,202.1 L733.4,189.6 L734.1,177.1 L735.9,164.7 L737.7,152.2 L738.7,139.7 L739.0,127.2 L739.0,114.8 L739.0,102.3 L739.0,89.8 L739.0,77.3 L739.0,64.9 L739.0,52.4Z" fill="#e7d739" fill-opacity="0.5" stroke="#000" stroke-width="0.7" stroke-linejoin="round"/><line x1="733.52" y1="184.60" x2="744.69" y2="184.60" stroke="#000" stroke-width="2.4"/><line x1="733.46" y1="193.00" x2="744.76" y2="193.00" stroke="#f00" stroke-width="2.4"/>
<path d="M758.1,80.0 L758.1,92.5 L758.1,105.0 L758.1,117.5 L758.2,130.0 L758.9,142.5 L760.4,155.0 L762.2,167.5 L763.5,180.0 L763.6,192.5 L762.5,204.0 L760.2,216.5 L758.5,229.0 L758.1,241.5 L758.1,254.0 L758.1,266.5 L758.1,272.4 L757.9,272.4 L757.9,266.5 L757.9,254.0 L757.9,241.5 L757.4,229.0 L755.8,216.5 L753.5,204.0 L752.4,192.5 L752.5,180.0 L753.8,167.5 L755.6,155.0 L757.1,142.5 L757.7,130.0 L757.9,117.5 L757.9,105.0 L757.9,92.5 L757.9,80.0Z" fill="#efcd3a" fill-opacity="0.5" stroke="#000" stroke-width="0.7" stroke-linejoin="round"/><line x1="752.37" y1="183.00" x2="763.62" y2="183.00" stroke="#000" stroke-width="2.4"/><line x1="752.32" y1="188.20" x2="763.66" y2="188.20" stroke="#f00" stroke-width="2.4"/>
<path d="M777.0,114.0 L777.0,126.5 L777.0,139.0 L777.3,151.5 L778.6,164.0 L780.7,176.5 L782.3,188.5 L782.5,201.0 L781.4,211.5 L779.0,224.0 L777.3,236.5 L777.0,249.0 L777.0,261.5 L777.0,272.4 L776.8,272.4 L776.8,261.5 L776.8,249.0 L776.4,236.5 L774.7,224.0 L772.3,211.5 L771.3,201.0 L771.4,188.5 L773.0,176.5 L775.2,164.0 L776.4,151.5 L776.8,139.0 L776.8,126.5 L776.8,114.0Z" fill="#f5c53a" fill-opacity="0.5" stroke="#000" stroke-width="0.7" stroke-linejoin="round"/><line x1="771.21" y1="195.00" x2="782.55" y2="195.00" stroke="#000" stroke-width="2.4"/><line x1="771.21" y1="196.60" x2="782.55" y2="196.60" stroke="#f00" stroke-width="2.4"/>
<path d="M795.9,115.0 L795.9,127.5 L795.9,140.0 L796.1,152.5 L797.0,165.0 L798.9,177.5 L800.8,190.0 L801.4,202.5 L800.9,214.0 L798.8,226.5 L796.7,239.0 L795.9,251.5 L795.9,264.0 L795.9,272.4 L795.7,272.4 L795.7,264.0 L795.6,251.5 L794.8,239.0 L792.7,226.5 L790.7,214.0 L790.1,202.5 L790.7,190.0 L792.7,177.5 L794.5,165.0 L795.5,152.5 L795.7,140.0 L795.7,127.5 L795.7,115.0Z" fill="#f9bc39" fill-opacity="0.5" stroke="#000" stroke-width="0.7" stroke-linejoin="round"/><line x1="790.10" y1="200.20" x2="801.43" y2="200.20" stroke="#000" stroke-width="2.4"/><line x1="790.10" y1="203.10" x2="801.43" y2="203.10" stroke="#f00" stroke-width="2.4"/>
<path d="M814.8,90.0 L814.8,102.5 L814.8,115.0 L814.8,127.5 L815.2,140.0 L816.3,152.5 L818.3,165.0 L819.9,177.5 L820.3,190.0 L819.6,202.5 L817.6,215.0 L815.7,227.5 L814.8,240.0 L814.8,252.5 L814.8,265.0 L814.8,272.4 L814.5,272.4 L814.5,265.0 L814.5,252.5 L814.5,240.0 L813.6,227.5 L811.7,215.0 L809.7,202.5 L809.0,190.0 L809.4,177.5 L811.0,165.0 L813.0,152.5 L814.2,140.0 L814.5,127.5 L814.5,115.0 L814.5,102.5 L814.5,90.0Z" fill="#fcb336" fill-opacity="0.5" stroke="#000" stroke-width="0.7" stroke-linejoin="round"/><line x1="808.98" y1="187.00" x2="820.32" y2="187.00" stroke="#000" stroke-width="2.4"/><line x1="808.98" y1="187.30" x2="820.32" y2="187.30" stroke="#f00" stroke-width="2.4"/>
<path d="M833.7,111.2 L833.7,123.7 L833.7,136.2 L834.0,148.6 L835.1,161.1 L837.2,173.6 L838.9,186.1 L839.2,198.6 L838.3,208.0 L835.8,220.5 L834.1,232.0 L833.7,244.5 L833.7,257.0 L833.7,269.5 L833.7,272.4 L833.4,272.4 L833.4,269.5 L833.4,257.0 L833.4,244.5 L833.0,232.0 L831.2,220.5 L828.8,208.0 L827.9,198.6 L828.2,186.1 L829.9,173.6 L832.0,161.1 L833.1,148.6 L833.4,136.2 L833.4,123.7 L833.4,111.2Z" fill="#fea933" fill-opacity="0.5" stroke="#000" stroke-width="0.7" stroke-linejoin="round"/><line x1="827.87" y1="193.80" x2="839.21" y2="193.80" stroke="#000" stroke-width="2.4"/><line x1="827.87" y1="194.00" x2="839.21" y2="194.00" stroke="#f00" stroke-width="2.4"/>
<path d="M852.5,78.0 L852.5,90.5 L852.5,103.0 L852.7,115.5 L853.2,128.0 L854.1,140.5 L855.5,153.0 L857.0,165.5 L857.9,178.0 L858.1,190.5 L857.4,203.0 L855.7,215.5 L853.8,228.0 L852.8,240.5 L852.5,253.0 L852.5,265.5 L852.5,272.4 L852.3,272.4 L852.3,265.5 L852.3,253.0 L852.1,240.5 L851.1,228.0 L849.2,215.5 L847.4,203.0 L846.8,190.5 L846.9,178.0 L847.9,165.5 L849.3,153.0 L850.7,140.5 L851.7,128.0 L852.2,115.5 L852.3,103.0 L852.3,90.5 L852.3,78.0Z" fill="#fe9e2f" fill-opacity="0.5" stroke="#000" stroke-width="0.7" stroke-linejoin="round"/><line x1="846.84" y1="180.60" x2="858.02" y2="180.60" stroke="#000" stroke-width="2.4"/><line x1="846.76" y1="186.30" x2="858.10" y2="186.30" stroke="#f00" stroke-width="2.4"/>
<path d="M871.4,116.0 L871.4,128.5 L871.4,141.0 L871.9,153.5 L873.3,166.0 L875.5,178.5 L876.9,190.0 L876.8,202.5 L875.4,214.0 L873.0,226.5 L871.6,239.0 L871.4,251.5 L871.4,264.0 L871.4,272.4 L871.2,272.4 L871.2,264.0 L871.2,251.5 L871.0,239.0 L869.6,226.5 L867.2,214.0 L865.8,202.5 L865.8,190.0 L867.1,178.5 L869.3,166.0 L870.7,153.5 L871.2,141.0 L871.2,128.5 L871.2,116.0Z" fill="#fe932a" fill-opacity="0.5" stroke="#000" stroke-width="0.7" stroke-linejoin="round"/><line x1="865.65" y1="194.70" x2="876.98" y2="194.70" stroke="#000" stroke-width="2.4"/><line x1="865.65" y1="196.40" x2="876.98" y2="196.40" stroke="#f00" stroke-width="2.4"/>
<path d="M890.3,88.6 L890.3,101.1 L890.3,113.6 L890.3,126.1 L890.4,138.6 L891.1,151.0 L892.8,163.5 L895.0,176.0 L895.9,187.0 L895.6,199.5 L894.1,212.0 L892.0,224.5 L890.6,237.0 L890.3,249.5 L890.3,262.0 L890.3,272.4 L890.1,272.4 L890.1,262.0 L890.1,249.5 L889.8,237.0 L888.5,224.5 L886.3,212.0 L884.8,199.5 L884.6,187.0 L885.5,176.0 L887.6,163.5 L889.3,151.0 L890.0,138.6 L890.1,126.1 L890.1,113.6 L890.1,101.1 L890.1,88.6Z" fill="#fc8725" fill-opacity="0.5" stroke="#000" stroke-width="0.7" stroke-linejoin="round"/><line x1="884.53" y1="188.50" x2="895.87" y2="188.50" stroke="#000" stroke-width="2.4"/><line x1="884.53" y1="190.40" x2="895.87" y2="190.40" stroke="#f00" stroke-width="2.4"/>
<path d="M909.2,51.6 L909.2,64.1 L909.2,76.6 L909.2,89.1 L909.2,101.6 L909.2,114.1 L909.4,126.5 L910.0,139.0 L911.3,151.5 L913.1,164.0 L914.4,176.5 L914.8,189.0 L914.3,201.5 L912.9,214.0 L911.0,226.5 L909.7,239.0 L909.2,251.5 L909.2,264.0 L909.2,272.4 L909.0,272.4 L909.0,264.0 L909.0,251.5 L908.4,239.0 L907.1,226.5 L905.3,214.0 L903.9,201.5 L903.4,189.0 L903.8,176.5 L905.1,164.0 L906.9,151.5 L908.2,139.0 L908.8,126.5 L909.0,114.1 L909.0,101.6 L909.0,89.1 L909.0,76.6 L909.0,64.1 L909.0,51.6Z" fill="#f9781e" fill-opacity="0.5" stroke="#000" stroke-width="0.7" stroke-linejoin="round"/><line x1="903.55" y1="180.10" x2="914.62" y2="180.10" stroke="#000" stroke-width="2.4"/><line x1="903.42" y1="186.30" x2="914.76" y2="186.30" stroke="#f00" stroke-width="2.4"/>
<path d="M928.1,87.0 L928.1,99.5 L928.1,112.0 L928.1,124.5 L928.5,137.0 L929.5,149.5 L931.2,162.0 L932.9,174.5 L933.6,187.0 L933.4,199.5 L932.2,212.0 L930.2,224.5 L928.7,237.0 L928.1,249.5 L928.1,262.0 L928.1,272.4 L927.9,272.4 L927.9,262.0 L927.9,249.5 L927.3,237.0 L925.8,224.5 L923.8,212.0 L922.5,199.5 L922.3,187.0 L923.1,174.5 L924.7,162.0 L926.4,149.5 L927.4,137.0 L927.8,124.5 L927.9,112.0 L927.9,99.5 L927.9,87.0Z" fill="#f66c19" fill-opacity="0.5" stroke="#000" stroke-width="0.7" stroke-linejoin="round"/><line x1="922.31" y1="188.50" x2="933.65" y2="188.50" stroke="#000" stroke-width="2.4"/><line x1="922.31" y1="191.40" x2="933.64" y2="191.40" stroke="#f00" stroke-width="2.4"/>
<path d="M947.0,-1.5 L947.0,11.0 L947.0,23.5 L947.0,36.0 L947.2,48.5 L947.4,61.0 L947.6,73.5 L947.8,86.0 L948.2,98.5 L948.8,111.0 L949.3,123.5 L949.2,136.0 L948.8,148.5 L949.2,160.5 L951.0,173.0 L952.4,183.5 L952.4,196.0 L951.5,208.5 L949.6,221.0 L947.9,233.5 L947.1,246.0 L947.0,258.5 L947.0,271.0 L947.0,272.4 L946.7,272.4 L946.7,271.0 L946.7,258.5 L946.6,246.0 L945.9,233.5 L944.2,221.0 L942.3,208.5 L941.3,196.0 L941.3,183.5 L942.7,173.0 L944.5,160.5 L944.9,148.5 L944.5,136.0 L944.5,123.5 L944.9,111.0 L945.5,98.5 L945.9,86.0 L946.1,73.5 L946.3,61.0 L946.6,48.5 L946.7,36.0 L946.7,23.5 L946.7,11.0 L946.7,-1.5Z" fill="#f26014" fill-opacity="0.5" stroke="#000" stroke-width="0.7" stroke-linejoin="round"/><line x1="944.30" y1="162.60" x2="949.43" y2="162.60" stroke="#000" stroke-width="2.4"/><line x1="941.20" y1="186.80" x2="952.52" y2="186.80" stroke="#f00" stroke-width="2.4"/>
<path d="M965.9,59.0 L965.9,71.5 L966.3,84.0 L967.2,96.5 L968.4,109.0 L969.1,121.5 L969.0,134.0 L968.3,146.5 L968.3,159.0 L969.5,171.5 L971.0,184.0 L971.4,196.5 L970.8,209.0 L968.8,221.5 L966.8,234.0 L965.9,246.5 L965.9,259.0 L965.9,271.5 L965.9,272.4 L965.6,272.4 L965.6,271.5 L965.6,259.0 L965.6,246.5 L964.7,234.0 L962.7,221.5 L960.7,209.0 L960.1,196.5 L960.5,184.0 L962.0,171.5 L963.2,159.0 L963.2,146.5 L962.5,134.0 L962.4,121.5 L963.1,109.0 L964.3,96.5 L965.2,84.0 L965.6,71.5 L965.6,59.0Z" fill="#ed5510" fill-opacity="0.5" stroke="#000" stroke-width="0.7" stroke-linejoin="round"/><line x1="962.06" y1="171.00" x2="969.44" y2="171.00" stroke="#000" stroke-width="2.4"/><line x1="960.17" y1="189.70" x2="971.33" y2="189.70" stroke="#f00" stroke-width="2.4"/>
<path d="M984.8,71.0 L984.9,83.5 L985.3,96.0 L986.1,108.5 L987.1,121.0 L987.9,133.5 L988.3,146.0 L988.8,158.5 L989.6,171.0 L990.3,183.5 L990.1,196.0 L989.3,208.5 L987.8,221.0 L986.2,233.5 L985.1,246.0 L984.8,258.5 L984.8,271.0 L984.8,272.4 L984.5,272.4 L984.5,271.0 L984.5,258.5 L984.2,246.0 L983.1,233.5 L981.4,221.0 L979.9,208.5 L979.2,196.0 L979.0,183.5 L979.6,171.0 L980.5,158.5 L981.0,146.0 L981.4,133.5 L982.2,121.0 L983.2,108.5 L984.0,96.0 L984.4,83.5 L984.5,71.0Z" fill="#e84b0c" fill-opacity="0.5" stroke="#000" stroke-width="0.7" stroke-linejoin="round"/><line x1="979.18" y1="178.20" x2="990.09" y2="178.20" stroke="#000" stroke-width="2.4"/><line x1="979.03" y1="190.60" x2="990.24" y2="190.60" stroke="#f00" stroke-width="2.4"/>
<path d="M1003.6,116.0 L1003.6,128.5 L1003.6,141.0 L1004.1,153.5 L1005.6,166.0 L1007.8,178.5 L1009.1,189.0 L1009.1,201.5 L1008.1,214.0 L1006.2,226.5 L1004.5,239.0 L1003.7,251.5 L1003.6,264.0 L1003.6,272.4 L1003.4,272.4 L1003.4,264.0 L1003.3,251.5 L1002.6,239.0 L1000.9,226.5 L999.0,214.0 L997.9,201.5 L998.0,189.0 L999.2,178.5 L1001.4,166.0 L1002.9,153.5 L1003.4,141.0 L1003.4,128.5 L1003.4,116.0Z" fill="#e2430a" fill-opacity="0.5" stroke="#000" stroke-width="0.7" stroke-linejoin="round"/><line x1="997.86" y1="195.50" x2="1009.19" y2="195.50" stroke="#000" stroke-width="2.4"/><line x1="997.86" y1="195.70" x2="1009.19" y2="195.70" stroke="#f00" stroke-width="2.4"/>
<path d="M1022.5,70.4 L1022.5,82.9 L1022.5,95.3 L1022.6,107.8 L1023.0,120.3 L1023.8,132.8 L1025.0,145.2 L1026.4,157.7 L1027.5,170.2 L1028.1,182.6 L1028.0,195.1 L1026.9,207.6 L1024.9,220.1 L1023.3,232.5 L1022.6,245.0 L1022.5,257.5 L1022.5,270.0 L1022.5,272.5 L1022.3,272.5 L1022.3,270.0 L1022.3,257.5 L1022.2,245.0 L1021.5,232.5 L1019.9,220.1 L1018.0,207.6 L1016.9,195.1 L1016.8,182.6 L1017.3,170.2 L1018.4,157.7 L1019.8,145.2 L1021.0,132.8 L1021.8,120.3 L1022.2,107.8 L1022.3,95.3 L1022.3,82.9 L1022.3,70.4Z" fill="#dc3b07" fill-opacity="0.5" stroke="#000" stroke-width="0.7" stroke-linejoin="round"/><line x1="1017.06" y1="174.00" x2="1027.76" y2="174.00" stroke="#000" stroke-width="2.4"/><line x1="1016.74" y1="185.10" x2="1028.08" y2="185.10" stroke="#f00" stroke-width="2.4"/>
<path d="M1041.4,76.6 L1041.4,89.1 L1041.4,101.6 L1041.4,114.1 L1041.6,126.6 L1042.4,139.1 L1043.8,151.5 L1045.6,164.0 L1046.8,176.5 L1046.9,189.0 L1046.3,201.5 L1044.7,214.0 L1042.9,226.5 L1041.8,239.0 L1041.4,251.5 L1041.4,264.0 L1041.4,272.4 L1041.2,272.4 L1041.2,264.0 L1041.2,251.5 L1040.8,239.0 L1039.7,226.5 L1037.9,214.0 L1036.3,201.5 L1035.7,189.0 L1035.8,176.5 L1037.0,164.0 L1038.8,151.5 L1040.2,139.1 L1041.0,126.6 L1041.2,114.1 L1041.2,101.6 L1041.2,89.1 L1041.2,76.6Z" fill="#d43305" fill-opacity="0.5" stroke="#000" stroke-width="0.7" stroke-linejoin="round"/><line x1="1035.63" y1="183.00" x2="1046.96" y2="183.00" stroke="#000" stroke-width="2.4"/><line x1="1035.63" y1="183.40" x2="1046.97" y2="183.40" stroke="#f00" stroke-width="2.4"/>
<path d="M1060.3,56.0 L1060.3,68.5 L1060.3,81.0 L1060.3,93.5 L1060.3,106.0 L1060.5,118.5 L1061.3,131.0 L1062.7,143.5 L1064.4,156.0 L1065.6,168.5 L1065.8,181.0 L1065.4,193.5 L1064.0,206.0 L1062.3,218.5 L1061.0,231.0 L1060.4,243.5 L1060.3,256.0 L1060.3,268.5 L1060.3,272.4 L1060.1,272.4 L1060.1,268.5 L1060.1,256.0 L1060.0,243.5 L1059.4,231.0 L1058.1,218.5 L1056.3,206.0 L1055.0,193.5 L1054.5,181.0 L1054.7,168.5 L1056.0,156.0 L1057.7,143.5 L1059.1,131.0 L1059.8,118.5 L1060.1,106.0 L1060.1,93.5 L1060.1,81.0 L1060.1,68.5 L1060.1,56.0Z" fill="#ca2a04" fill-opacity="0.5" stroke="#000" stroke-width="0.7" stroke-linejoin="round"/><line x1="1054.54" y1="174.30" x2="1065.83" y2="174.30" stroke="#000" stroke-width="2.4"/><line x1="1054.52" y1="176.00" x2="1065.85" y2="176.00" stroke="#f00" stroke-width="2.4"/>
<path d="M1079.2,63.0 L1079.3,75.5 L1079.7,88.0 L1080.4,100.5 L1081.4,113.0 L1082.3,125.5 L1082.6,138.0 L1082.7,150.5 L1083.2,163.0 L1084.3,175.5 L1084.7,188.0 L1084.3,200.5 L1083.1,213.0 L1081.3,225.5 L1079.9,238.0 L1079.3,250.5 L1079.2,263.0 L1079.2,272.4 L1079.0,272.4 L1079.0,263.0 L1078.9,250.5 L1078.2,238.0 L1076.8,225.5 L1075.1,213.0 L1073.9,200.5 L1073.4,188.0 L1073.8,175.5 L1074.9,163.0 L1075.5,150.5 L1075.5,138.0 L1075.9,125.5 L1076.7,113.0 L1077.7,100.5 L1078.5,88.0 L1078.9,75.5 L1079.0,63.0Z" fill="#c12302" fill-opacity="0.5" stroke="#000" stroke-width="0.7" stroke-linejoin="round"/><line x1="1073.73" y1="176.70" x2="1084.42" y2="176.70" stroke="#000" stroke-width="2.4"/><line x1="1073.46" y1="189.20" x2="1084.68" y2="189.20" stroke="#f00" stroke-width="2.4"/>
<path d="M1098.1,91.0 L1098.1,103.5 L1098.1,116.0 L1098.3,128.5 L1099.1,141.0 L1100.6,153.5 L1102.4,166.0 L1103.5,178.5 L1103.6,191.0 L1102.8,203.5 L1101.1,216.0 L1099.4,228.5 L1098.3,241.0 L1098.1,253.5 L1098.1,266.0 L1098.1,272.4 L1097.8,272.4 L1097.8,266.0 L1097.8,253.5 L1097.6,241.0 L1096.6,228.5 L1094.8,216.0 L1093.1,203.5 L1092.3,191.0 L1092.4,178.5 L1093.5,166.0 L1095.3,153.5 L1096.8,141.0 L1097.6,128.5 L1097.8,116.0 L1097.8,103.5 L1097.8,91.0Z" fill="#b71d02" fill-opacity="0.5" stroke="#000" stroke-width="0.7" stroke-linejoin="round"/><line x1="1092.32" y1="181.00" x2="1103.60" y2="181.00" stroke="#000" stroke-width="2.4"/><line x1="1092.29" y1="184.40" x2="1103.63" y2="184.40" stroke="#f00" stroke-width="2.4"/>
<path d="M1117.0,92.0 L1117.0,104.5 L1117.0,117.0 L1117.0,129.5 L1117.6,142.0 L1119.1,154.5 L1121.1,167.0 L1122.4,179.5 L1122.4,192.0 L1121.2,204.5 L1119.0,217.0 L1117.5,229.5 L1117.0,242.0 L1117.0,254.5 L1117.0,267.0 L1117.0,272.4 L1116.7,272.4 L1116.7,267.0 L1116.7,254.5 L1116.7,242.0 L1116.2,229.5 L1114.7,217.0 L1112.5,204.5 L1111.3,192.0 L1111.3,179.5 L1112.6,167.0 L1114.6,154.5 L1116.1,142.0 L1116.7,129.5 L1116.7,117.0 L1116.7,104.5 L1116.7,92.0Z" fill="#ac1701" fill-opacity="0.5" stroke="#000" stroke-width="0.7" stroke-linejoin="round"/><line x1="1111.18" y1="184.50" x2="1122.52" y2="184.50" stroke="#000" stroke-width="2.4"/><line x1="1111.18" y1="185.10" x2="1122.52" y2="185.10" stroke="#f00" stroke-width="2.4"/>
<path d="M1135.8,102.0 L1135.8,114.5 L1135.8,127.0 L1135.8,139.5 L1136.2,152.0 L1137.4,164.5 L1139.3,177.0 L1141.0,189.5 L1141.4,202.0 L1140.7,211.5 L1138.3,224.0 L1136.4,236.0 L1135.8,248.5 L1135.8,261.0 L1135.8,272.4 L1135.6,272.4 L1135.6,261.0 L1135.6,248.5 L1135.1,236.0 L1133.1,224.0 L1130.8,211.5 L1130.1,202.0 L1130.5,189.5 L1132.2,177.0 L1134.1,164.5 L1135.3,152.0 L1135.6,139.5 L1135.6,127.0 L1135.6,114.5 L1135.6,102.0Z" fill="#a11201" fill-opacity="0.5" stroke="#000" stroke-width="0.7" stroke-linejoin="round"/><line x1="1130.06" y1="198.20" x2="1141.40" y2="198.20" stroke="#000" stroke-width="2.4"/><line x1="1130.06" y1="198.60" x2="1141.40" y2="198.60" stroke="#f00" stroke-width="2.4"/>
<path d="M1154.7,100.0 L1154.7,112.5 L1154.8,125.0 L1155.3,137.5 L1156.3,150.0 L1157.8,162.5 L1159.4,175.0 L1160.2,187.5 L1160.1,200.0 L1158.5,211.5 L1156.1,224.0 L1154.8,236.5 L1154.7,249.0 L1154.7,261.5 L1154.7,272.4 L1154.5,272.4 L1154.5,261.5 L1154.5,249.0 L1154.4,236.5 L1153.2,224.0 L1150.7,211.5 L1149.1,200.0 L1149.0,187.5 L1149.9,175.0 L1151.4,162.5 L1153.0,150.0 L1154.0,137.5 L1154.4,125.0 L1154.5,112.5 L1154.5,100.0Z" fill="#950d01" fill-opacity="0.5" stroke="#000" stroke-width="0.7" stroke-linejoin="round"/><line x1="1148.97" y1="189.70" x2="1160.27" y2="189.70" stroke="#000" stroke-width="2.4"/><line x1="1148.95" y1="192.40" x2="1160.29" y2="192.40" stroke="#f00" stroke-width="2.4"/>
<path d="M1173.6,71.0 L1173.6,83.5 L1173.6,96.0 L1173.6,108.5 L1173.7,121.0 L1174.0,133.5 L1174.9,146.0 L1176.3,158.5 L1177.9,171.0 L1179.0,183.5 L1179.2,196.0 L1178.3,208.0 L1176.1,220.5 L1174.3,233.0 L1173.6,245.5 L1173.6,258.0 L1173.6,270.5 L1173.6,272.4 L1173.4,272.4 L1173.4,270.5 L1173.4,258.0 L1173.4,245.5 L1172.7,233.0 L1170.9,220.5 L1168.7,208.0 L1167.9,196.0 L1168.0,183.5 L1169.1,171.0 L1170.7,158.5 L1172.1,146.0 L1173.0,133.5 L1173.4,121.0 L1173.4,108.5 L1173.4,96.0 L1173.4,83.5 L1173.4,71.0Z" fill="#880802" fill-opacity="0.5" stroke="#000" stroke-width="0.7" stroke-linejoin="round"/><line x1="1167.85" y1="189.70" x2="1179.16" y2="189.70" stroke="#000" stroke-width="2.4"/><line x1="1167.84" y1="194.60" x2="1179.17" y2="194.60" stroke="#f00" stroke-width="2.4"/>
<path d="M1192.5,110.0 L1192.5,122.5 L1192.9,135.0 L1193.8,147.5 L1195.3,160.0 L1196.9,172.5 L1197.9,185.0 L1198.0,197.5 L1197.1,207.0 L1194.7,219.5 L1192.9,231.5 L1192.5,244.0 L1192.5,256.5 L1192.5,269.0 L1192.5,272.4 L1192.3,272.4 L1192.3,269.0 L1192.3,256.5 L1192.3,244.0 L1191.9,231.5 L1190.1,219.5 L1187.7,207.0 L1186.8,197.5 L1186.9,185.0 L1187.9,172.5 L1189.5,160.0 L1191.0,147.5 L1191.9,135.0 L1192.3,122.5 L1192.3,110.0Z" fill="#7a0403" fill-opacity="0.5" stroke="#000" stroke-width="0.7" stroke-linejoin="round"/><line x1="1186.73" y1="191.00" x2="1198.06" y2="191.00" stroke="#000" stroke-width="2.4"/><line x1="1186.72" y1="193.00" x2="1198.06" y2="193.00" stroke="#f00" stroke-width="2.4"/>
</g>
<path d="M21.40 0.50v11M21.40 270.45v-11M40.29 0.50v11M40.29 270.45v-11M59.17 0.50v11M59.17 270.45v-11M78.06 0.50v11M78.06 270.45v-11M96.95 0.50v11M96.95 270.45v-11M115.84 0.50v11M115.84 270.45v-11M134.72 0.50v11M134.72 270.45v-11M153.61 0.50v11M153.61 270.45v-11M172.50 0.50v11M172.50 270.45v-11M191.38 0.50v11M191.38 270.45v-11M210.27 0.50v11M210.27 270.45v-11M229.16 0.50v11M229.16 270.45v-11M248.04 0.50v11M248.04 270.45v-11M266.93 0.50v11M266.93 270.45v-11M285.82 0.50v11M285.82 270.45v-11M304.70 0.50v11M304.70 270.45v-11M323.59 0.50v11M323.59 270.45v-11M342.48 0.50v11M342.48 270.45v-11M361.37 0.50v11M361.37 270.45v-11M380.25 0.50v11M380.25 270.45v-11M399.14 0.50v11M399.14 270.45v-11M418.03 0.50v11M418.03 270.45v-11M436.91 0.50v11M436.91 270.45v-11M455.80 0.50v11M455.80 270.45v-11M474.69 0.50v11M474.69 270.45v-11M493.57 0.50v11M493.57 270.45v-11M512.46 0.50v11M512.46 270.45v-11M531.35 0.50v11M531.35 270.45v-11M550.24 0.50v11M550.24 270.45v-11M569.12 0.50v11M569.12 270.45v-11M588.01 0.50v11M588.01 270.45v-11M606.90 0.50v11M606.90 270.45v-11M625.78 0.50v11M625.78 270.45v-11M644.67 0.50v11M644.67 270.45v-11M663.56 0.50v11M663.56 270.45v-11M682.45 0.50v11M682.45 270.45v-11M701.33 0.50v11M701.33 270.45v-11M720.22 0.50v11M720.22 270.45v-11M739.11 0.50v11M739.11 270.45v-11M757.99 0.50v11M757.99 270.45v-11M776.88 0.50v11M776.88 270.45v-11M795.77 0.50v11M795.77 270.45v-11M814.65 0.50v11M814.65 270.45v-11M833.54 0.50v11M833.54 270.45v-11M852.43 0.50v11M852.43 270.45v-11M871.31 0.50v11M871.31 270.45v-11M890.20 0.50v11M890.20 270.45v-11M909.09 0.50v11M909.09 270.45v-11M927.98 0.50v11M927.98 270.45v-11M946.86 0.50v11M946.86 270.45v-11M965.75 0.50v11M965.75 270.45v-11M984.64 0.50v11M984.64 270.45v-11M1003.52 0.50v11M1003.52 270.45v-11M1022.41 0.50v11M1022.41 270.45v-11M1041.30 0.50v11M1041.30 270.45v-11M1060.19 0.50v11M1060.19 270.45v-11M1079.07 0.50v11M1079.07 270.45v-11M1097.96 0.50v11M1097.96 270.45v-11M1116.85 0.50v11M1116.85 270.45v-11M1135.73 0.50v11M1135.73 270.45v-11M1154.62 0.50v11M1154.62 270.45v-11M1173.51 0.50v11M1173.51 270.45v-11M1192.39 0.50v11M1192.39 270.45v-11M16.50 215.40h11M1197.40 215.40h-11M16.50 153.33h11M1197.40 153.33h-11M16.50 91.26h11M1197.40 91.26h-11M16.50 29.19h11M1197.40 29.19h-11" stroke="#5a5a5a" stroke-width="0.9" fill="none"/>
<rect x="16.5" y="0.5" width="1180.9" height="269.95" fill="none" stroke="#7a7a7a" stroke-width="1"/>
<text x="9.6" y="222.40" class="yt">0</text>
<text x="9.6" y="160.33" class="yt">1</text>
<text x="9.6" y="98.26" class="yt">2</text>
<text x="9.6" y="36.19" class="yt">3</text>
<text x="609" y="21.3" class="ti">Out-Strength</text>
<line x1="1084.4" x2="1121.7" y1="58.7" y2="58.7" stroke="#000" stroke-width="2.3"/>
<line x1="1084.4" x2="1121.7" y1="81.4" y2="81.4" stroke="#f00" stroke-width="2.3"/>
<text x="1125.2" y="65.0" class="lg">Mean</text>
<text x="1125.2" y="88.1" class="lg">Median</text>
<clipPath id="clipB"><rect x="16.5" y="278.9" width="1180.9" height="245.5"/></clipPath>
<path d="M21.40 278.90V524.40M40.29 278.90V524.40M59.17 278.90V524.40M78.06 278.90V524.40M96.95 278.90V524.40M115.84 278.90V524.40M134.72 278.90V524.40M153.61 278.90V524.40M172.50 278.90V524.40M191.38 278.90V524.40M210.27 278.90V524.40M229.16 278.90V524.40M248.04 278.90V524.40M266.93 278.90V524.40M285.82 278.90V524.40M304.70 278.90V524.40M323.59 278.90V524.40M342.48 278.90V524.40M361.37 278.90V524.40M380.25 278.90V524.40M399.14 278.90V524.40M418.03 278.90V524.40M436.91 278.90V524.40M455.80 278.90V524.40M474.69 278.90V524.40M493.57 278.90V524.40M512.46 278.90V524.40M531.35 278.90V524.40M550.24 278.90V524.40M569.12 278.90V524.40M588.01 278.90V524.40M606.90 278.90V524.40M625.78 278.90V524.40M644.67 278.90V524.40M663.56 278.90V524.40M682.45 278.90V524.40M701.33 278.90V524.40M720.22 278.90V524.40M739.11 278.90V524.40M757.99 278.90V524.40M776.88 278.90V524.40M795.77 278.90V524.40M814.65 278.90V524.40M833.54 278.90V524.40M852.43 278.90V524.40M871.31 278.90V524.40M890.20 278.90V524.40M909.09 278.90V524.40M927.98 278.90V524.40M946.86 278.90V524.40M965.75 278.90V524.40M984.64 278.90V524.40M1003.52 278.90V524.40M1022.41 278.90V524.40M1041.30 278.90V524.40M1060.19 278.90V524.40M1079.07 278.90V524.40M1097.96 278.90V524.40M1116.85 278.90V524.40M1135.73 278.90V524.40M1154.62 278.90V524.40M1173.51 278.90V524.40M1192.39 278.90V524.40M16.50 471.10H1197.40M16.50 410.80H1197.40M16.50 350.50H1197.40M16.50 290.20H1197.40" stroke="#e6e6e6" stroke-width="0.9" fill="none"/>
<g clip-path="url(#clipB)">
<path d="M21.5,362.6 L21.5,375.1 L21.7,387.6 L22.4,400.1 L23.7,412.5 L25.4,425.0 L26.8,437.5 L27.1,450.0 L26.3,462.0 L24.2,474.5 L22.3,486.9 L21.5,499.4 L21.5,511.9 L21.5,524.4 L21.5,526.4 L21.3,526.4 L21.3,524.4 L21.3,511.9 L21.3,499.4 L20.5,486.9 L18.6,474.5 L16.5,462.0 L15.7,450.0 L16.0,437.5 L17.4,425.0 L19.1,412.5 L20.4,400.1 L21.1,387.6 L21.3,375.1 L21.3,362.6Z" fill="#30123b" fill-opacity="0.5" stroke="#000" stroke-width="0.7" stroke-linejoin="round"/><line x1="15.73" y1="447.20" x2="27.07" y2="447.20" stroke="#000" stroke-width="2.4"/><line x1="15.73" y1="447.40" x2="27.07" y2="447.40" stroke="#f00" stroke-width="2.4"/>
<path d="M40.4,365.4 L40.4,377.9 L40.7,390.3 L41.4,402.8 L42.8,415.2 L44.5,427.7 L45.7,440.2 L45.9,452.6 L45.2,465.1 L43.3,477.6 L41.4,490.0 L40.5,502.5 L40.4,514.9 L40.4,526.4 L40.2,526.4 L40.2,514.9 L40.1,502.5 L39.2,490.0 L37.3,477.6 L35.4,465.1 L34.6,452.6 L34.9,440.2 L36.1,427.7 L37.7,415.2 L39.1,402.8 L39.9,390.3 L40.2,377.9 L40.2,365.4Z" fill="#351e58" fill-opacity="0.5" stroke="#000" stroke-width="0.7" stroke-linejoin="round"/><line x1="34.62" y1="448.20" x2="45.95" y2="448.20" stroke="#000" stroke-width="2.4"/><line x1="34.62" y1="451.90" x2="45.95" y2="451.90" stroke="#f00" stroke-width="2.4"/>
<path d="M59.3,304.0 L59.3,316.5 L59.3,329.0 L59.3,341.5 L59.3,354.0 L59.7,366.5 L60.4,379.0 L61.3,391.5 L62.3,404.0 L63.4,416.4 L64.4,428.9 L64.8,441.4 L64.5,453.9 L63.5,466.4 L61.7,478.9 L60.1,491.4 L59.4,503.9 L59.3,516.4 L59.3,526.4 L59.1,526.4 L59.1,516.4 L59.0,503.9 L58.2,491.4 L56.6,478.9 L54.8,466.4 L53.8,453.9 L53.5,441.4 L53.9,428.9 L54.9,416.4 L56.0,404.0 L57.0,391.5 L58.0,379.0 L58.7,366.5 L59.0,354.0 L59.1,341.5 L59.1,329.0 L59.1,316.5 L59.1,304.0Z" fill="#392a73" fill-opacity="0.5" stroke="#000" stroke-width="0.7" stroke-linejoin="round"/><line x1="53.79" y1="431.50" x2="64.56" y2="431.50" stroke="#000" stroke-width="2.4"/><line x1="53.51" y1="442.40" x2="64.84" y2="442.40" stroke="#f00" stroke-width="2.4"/>
<path d="M78.2,350.0 L78.2,362.5 L78.2,375.0 L78.2,387.5 L78.7,400.0 L80.0,412.5 L81.8,425.0 L83.4,437.5 L83.7,449.9 L83.1,462.4 L81.2,474.9 L79.2,487.4 L78.3,499.9 L78.2,512.4 L78.2,524.9 L78.2,526.4 L77.9,526.4 L77.9,524.9 L77.9,512.4 L77.8,499.9 L76.9,487.4 L74.9,474.9 L73.1,462.4 L72.4,449.9 L72.8,437.5 L74.3,425.0 L76.2,412.5 L77.4,400.0 L77.9,387.5 L77.9,375.0 L77.9,362.5 L77.9,350.0Z" fill="#3d358b" fill-opacity="0.5" stroke="#000" stroke-width="0.7" stroke-linejoin="round"/><line x1="72.41" y1="445.00" x2="83.71" y2="445.00" stroke="#000" stroke-width="2.4"/><line x1="72.39" y1="448.60" x2="83.73" y2="448.60" stroke="#f00" stroke-width="2.4"/>
<path d="M97.1,356.0 L97.1,368.5 L97.1,381.0 L97.5,393.5 L98.5,406.0 L100.2,418.5 L101.9,431.0 L102.6,443.4 L102.4,455.9 L101.1,468.4 L99.1,480.9 L97.6,493.4 L97.1,505.9 L97.1,518.4 L97.1,526.4 L96.8,526.4 L96.8,518.4 L96.8,505.9 L96.3,493.4 L94.8,480.9 L92.8,468.4 L91.5,455.9 L91.3,443.4 L92.0,431.0 L93.7,418.5 L95.4,406.0 L96.4,393.5 L96.8,381.0 L96.8,368.5 L96.8,356.0Z" fill="#4040a2" fill-opacity="0.5" stroke="#000" stroke-width="0.7" stroke-linejoin="round"/><line x1="91.30" y1="442.90" x2="102.60" y2="442.90" stroke="#000" stroke-width="2.4"/><line x1="91.29" y1="448.40" x2="102.61" y2="448.40" stroke="#f00" stroke-width="2.4"/>
<path d="M115.9,345.0 L115.9,357.5 L115.9,370.0 L116.1,382.5 L116.8,395.0 L118.3,407.5 L120.1,420.0 L121.3,432.5 L121.5,444.9 L120.7,457.4 L118.8,469.9 L117.0,482.4 L116.1,494.9 L115.9,507.4 L115.9,519.9 L115.9,526.4 L115.7,526.4 L115.7,519.9 L115.7,507.4 L115.6,494.9 L114.7,482.4 L112.9,469.9 L111.0,457.4 L110.2,444.9 L110.3,432.5 L111.6,420.0 L113.4,407.5 L114.9,395.0 L115.6,382.5 L115.7,370.0 L115.7,357.5 L115.7,345.0Z" fill="#424bb5" fill-opacity="0.5" stroke="#000" stroke-width="0.7" stroke-linejoin="round"/><line x1="110.17" y1="440.50" x2="121.50" y2="440.50" stroke="#000" stroke-width="2.4"/><line x1="110.17" y1="441.00" x2="121.50" y2="441.00" stroke="#f00" stroke-width="2.4"/>
<path d="M134.8,381.0 L134.8,393.5 L134.9,406.0 L135.7,418.5 L137.5,431.0 L139.6,443.5 L140.4,453.9 L140.0,466.4 L138.2,478.9 L136.0,491.4 L134.9,503.9 L134.8,516.4 L134.8,526.4 L134.6,526.4 L134.6,516.4 L134.5,503.9 L133.4,491.4 L131.3,478.9 L129.4,466.4 L129.1,453.9 L129.8,443.5 L132.0,431.0 L133.8,418.5 L134.5,406.0 L134.6,393.5 L134.6,381.0Z" fill="#4456c7" fill-opacity="0.5" stroke="#000" stroke-width="0.7" stroke-linejoin="round"/><line x1="129.05" y1="456.50" x2="140.39" y2="456.50" stroke="#000" stroke-width="2.4"/><line x1="129.05" y1="456.70" x2="140.39" y2="456.70" stroke="#f00" stroke-width="2.4"/>
<path d="M153.7,352.0 L153.7,364.5 L153.7,377.0 L153.8,389.5 L154.4,402.0 L155.8,414.5 L157.7,427.0 L159.0,439.4 L159.3,451.9 L158.5,464.4 L156.7,476.9 L154.9,489.4 L153.9,501.9 L153.7,514.4 L153.7,526.4 L153.5,526.4 L153.5,514.4 L153.3,501.9 L152.4,489.4 L150.5,476.9 L148.7,464.4 L148.0,451.9 L148.2,439.4 L149.6,427.0 L151.4,414.5 L152.8,402.0 L153.4,389.5 L153.5,377.0 L153.5,364.5 L153.5,352.0Z" fill="#4661d6" fill-opacity="0.5" stroke="#000" stroke-width="0.7" stroke-linejoin="round"/><line x1="147.96" y1="444.70" x2="159.26" y2="444.70" stroke="#000" stroke-width="2.4"/><line x1="147.94" y1="448.80" x2="159.28" y2="448.80" stroke="#f00" stroke-width="2.4"/>
<path d="M172.6,308.0 L172.6,320.5 L172.6,333.0 L172.6,345.5 L172.8,358.0 L173.3,370.5 L174.1,383.0 L175.2,395.5 L176.2,408.0 L177.2,420.4 L178.0,432.9 L178.1,445.4 L177.6,457.9 L176.5,470.4 L174.7,482.9 L173.3,495.4 L172.7,507.9 L172.6,520.4 L172.6,526.4 L172.4,526.4 L172.4,520.4 L172.3,507.9 L171.7,495.4 L170.2,482.9 L168.5,470.4 L167.4,457.9 L166.9,445.4 L167.0,432.9 L167.8,420.4 L168.8,408.0 L169.8,395.5 L170.9,383.0 L171.7,370.5 L172.2,358.0 L172.4,345.5 L172.4,333.0 L172.4,320.5 L172.4,308.0Z" fill="#476ee6" fill-opacity="0.5" stroke="#000" stroke-width="0.7" stroke-linejoin="round"/><line x1="167.13" y1="429.90" x2="177.86" y2="429.90" stroke="#000" stroke-width="2.4"/><line x1="166.88" y1="444.50" x2="178.12" y2="444.50" stroke="#f00" stroke-width="2.4"/>
<path d="M191.5,354.0 L191.5,366.5 L191.5,379.0 L191.5,391.5 L191.6,404.0 L192.3,416.5 L194.0,429.0 L196.1,441.4 L197.0,452.9 L196.7,465.4 L195.0,477.9 L192.8,490.4 L191.6,502.9 L191.5,515.4 L191.5,526.4 L191.3,526.4 L191.3,515.4 L191.1,502.9 L190.0,490.4 L187.7,477.9 L186.0,465.4 L185.7,452.9 L186.7,441.4 L188.7,429.0 L190.4,416.5 L191.2,404.0 L191.3,391.5 L191.3,379.0 L191.3,366.5 L191.3,354.0Z" fill="#4778f0" fill-opacity="0.5" stroke="#000" stroke-width="0.7" stroke-linejoin="round"/><line x1="185.72" y1="453.80" x2="197.05" y2="453.80" stroke="#000" stroke-width="2.4"/><line x1="185.73" y1="458.30" x2="197.04" y2="458.30" stroke="#f00" stroke-width="2.4"/>
<path d="M210.4,349.0 L210.4,361.5 L210.4,374.0 L210.4,386.5 L210.8,399.0 L211.9,411.5 L213.9,424.0 L215.6,436.5 L215.9,448.9 L215.2,461.4 L213.2,473.9 L211.3,486.4 L210.5,498.9 L210.4,511.4 L210.4,523.9 L210.4,526.4 L210.2,526.4 L210.2,523.9 L210.2,511.4 L210.1,498.9 L209.2,486.4 L207.3,473.9 L205.4,461.4 L204.6,448.9 L205.0,436.5 L206.7,424.0 L208.6,411.5 L209.8,399.0 L210.2,386.5 L210.2,374.0 L210.2,361.5 L210.2,349.0Z" fill="#4682f8" fill-opacity="0.5" stroke="#000" stroke-width="0.7" stroke-linejoin="round"/><line x1="204.61" y1="443.50" x2="215.93" y2="443.50" stroke="#000" stroke-width="2.4"/><line x1="204.60" y1="445.80" x2="215.94" y2="445.80" stroke="#f00" stroke-width="2.4"/>
<path d="M229.3,378.0 L229.3,390.5 L229.3,403.0 L229.9,415.5 L231.7,428.0 L234.0,440.5 L234.8,449.0 L234.6,461.4 L233.3,473.9 L231.4,486.4 L229.9,498.9 L229.3,511.4 L229.3,523.9 L229.3,526.4 L229.0,526.4 L229.0,523.9 L229.0,511.4 L228.5,498.9 L227.0,486.4 L225.0,473.9 L223.7,461.4 L223.5,449.0 L224.3,440.5 L226.6,428.0 L228.4,415.5 L229.0,403.0 L229.0,390.5 L229.0,378.0Z" fill="#458cfd" fill-opacity="0.5" stroke="#000" stroke-width="0.7" stroke-linejoin="round"/><line x1="223.49" y1="453.50" x2="234.82" y2="453.50" stroke="#000" stroke-width="2.4"/><line x1="223.49" y1="453.80" x2="234.82" y2="453.80" stroke="#f00" stroke-width="2.4"/>
<path d="M248.2,371.4 L248.2,383.9 L248.2,396.3 L248.3,408.8 L249.4,421.2 L251.7,433.7 L253.4,444.2 L253.7,456.6 L252.7,469.1 L250.7,481.5 L248.9,494.0 L248.2,506.5 L248.2,518.9 L248.2,526.4 L247.9,526.4 L247.9,518.9 L247.9,506.5 L247.2,494.0 L245.4,481.5 L243.4,469.1 L242.4,456.6 L242.7,444.2 L244.4,433.7 L246.6,421.2 L247.8,408.8 L247.9,396.3 L247.9,383.9 L247.9,371.4Z" fill="#4196ff" fill-opacity="0.5" stroke="#000" stroke-width="0.7" stroke-linejoin="round"/><line x1="242.38" y1="453.00" x2="253.71" y2="453.00" stroke="#000" stroke-width="2.4"/><line x1="242.38" y1="453.20" x2="253.71" y2="453.20" stroke="#f00" stroke-width="2.4"/>
<path d="M267.0,367.0 L267.0,379.5 L267.0,392.0 L267.2,404.5 L268.4,417.0 L270.6,429.5 L272.3,440.5 L272.6,452.9 L271.8,465.4 L270.2,477.9 L268.4,490.4 L267.3,502.9 L267.0,515.4 L267.0,526.4 L266.8,526.4 L266.8,515.4 L266.5,502.9 L265.5,490.4 L263.7,477.9 L262.0,465.4 L261.3,452.9 L261.6,440.5 L263.2,429.5 L265.5,417.0 L266.6,404.5 L266.8,392.0 L266.8,379.5 L266.8,367.0Z" fill="#3ba0fd" fill-opacity="0.5" stroke="#000" stroke-width="0.7" stroke-linejoin="round"/><line x1="261.26" y1="446.60" x2="272.60" y2="446.60" stroke="#000" stroke-width="2.4"/><line x1="261.27" y1="451.10" x2="272.59" y2="451.10" stroke="#f00" stroke-width="2.4"/>
<path d="M285.9,349.4 L285.9,361.9 L285.9,374.3 L286.1,386.8 L286.8,399.3 L288.2,411.7 L290.1,424.2 L291.3,436.7 L291.5,449.1 L290.8,461.6 L289.3,474.0 L287.6,486.5 L286.4,499.0 L285.9,511.4 L285.9,523.9 L285.9,526.4 L285.7,526.4 L285.7,523.9 L285.7,511.4 L285.2,499.0 L284.0,486.5 L282.3,474.0 L280.8,461.6 L280.2,449.1 L280.3,436.7 L281.6,424.2 L283.4,411.7 L284.9,399.3 L285.6,386.8 L285.7,374.3 L285.7,361.9 L285.7,349.4Z" fill="#35abf8" fill-opacity="0.5" stroke="#000" stroke-width="0.7" stroke-linejoin="round"/><line x1="280.17" y1="441.00" x2="291.47" y2="441.00" stroke="#000" stroke-width="2.4"/><line x1="280.15" y1="446.00" x2="291.48" y2="446.00" stroke="#f00" stroke-width="2.4"/>
<path d="M304.8,373.0 L304.8,385.5 L304.8,398.0 L305.3,410.5 L306.7,423.0 L308.8,435.5 L310.2,447.5 L310.3,459.9 L309.2,472.4 L307.1,484.9 L305.4,497.4 L304.8,509.9 L304.8,522.4 L304.8,526.4 L304.6,526.4 L304.6,522.4 L304.6,509.9 L304.0,497.4 L302.3,484.9 L300.2,472.4 L299.1,459.9 L299.2,447.5 L300.6,435.5 L302.7,423.0 L304.1,410.5 L304.6,398.0 L304.6,385.5 L304.6,373.0Z" fill="#2eb4f2" fill-opacity="0.5" stroke="#000" stroke-width="0.7" stroke-linejoin="round"/><line x1="299.04" y1="452.80" x2="310.37" y2="452.80" stroke="#000" stroke-width="2.4"/><line x1="299.04" y1="454.60" x2="310.37" y2="454.60" stroke="#f00" stroke-width="2.4"/>
<path d="M323.7,335.6 L323.7,348.1 L323.7,360.6 L323.7,373.1 L324.1,385.5 L325.1,398.0 L326.8,410.5 L328.5,423.0 L329.2,435.5 L329.1,448.0 L328.0,460.5 L326.1,473.0 L324.5,485.4 L323.8,497.9 L323.7,510.4 L323.7,522.9 L323.7,526.4 L323.5,526.4 L323.5,522.9 L323.5,510.4 L323.4,497.9 L322.6,485.4 L321.1,473.0 L319.2,460.5 L318.1,448.0 L317.9,435.5 L318.7,423.0 L320.4,410.5 L322.1,398.0 L323.1,385.5 L323.5,373.1 L323.5,360.6 L323.5,348.1 L323.5,335.6Z" fill="#25c0e7" fill-opacity="0.5" stroke="#000" stroke-width="0.7" stroke-linejoin="round"/><line x1="317.97" y1="433.80" x2="329.22" y2="433.80" stroke="#000" stroke-width="2.4"/><line x1="317.96" y1="434.20" x2="329.23" y2="434.20" stroke="#f00" stroke-width="2.4"/>
<path d="M342.6,342.0 L342.6,354.5 L342.6,367.0 L342.6,379.5 L342.7,392.0 L343.3,404.5 L344.8,417.0 L346.8,429.5 L348.0,441.9 L348.1,454.4 L347.1,466.9 L345.2,479.4 L343.5,491.9 L342.7,504.4 L342.6,516.9 L342.6,526.4 L342.4,526.4 L342.4,516.9 L342.3,504.4 L341.5,491.9 L339.8,479.4 L337.9,466.9 L336.9,454.4 L336.9,441.9 L338.2,429.5 L340.1,417.0 L341.6,404.5 L342.3,392.0 L342.4,379.5 L342.4,367.0 L342.4,354.5 L342.4,342.0Z" fill="#1fc9dd" fill-opacity="0.5" stroke="#000" stroke-width="0.7" stroke-linejoin="round"/><line x1="336.85" y1="443.90" x2="348.11" y2="443.90" stroke="#000" stroke-width="2.4"/><line x1="336.81" y1="448.20" x2="348.15" y2="448.20" stroke="#f00" stroke-width="2.4"/>
<path d="M361.5,375.0 L361.5,387.5 L361.5,400.0 L362.2,412.5 L364.0,425.0 L366.2,437.5 L367.0,447.0 L366.8,459.4 L365.3,471.9 L363.2,484.4 L361.8,496.9 L361.5,509.4 L361.5,521.9 L361.5,526.4 L361.3,526.4 L361.3,521.9 L361.3,509.4 L360.9,496.9 L359.5,484.4 L357.4,471.9 L355.9,459.4 L355.7,447.0 L356.5,437.5 L358.7,425.0 L360.5,412.5 L361.2,400.0 L361.3,387.5 L361.3,375.0Z" fill="#1ad2d2" fill-opacity="0.5" stroke="#000" stroke-width="0.7" stroke-linejoin="round"/><line x1="355.70" y1="450.00" x2="367.04" y2="450.00" stroke="#000" stroke-width="2.4"/><line x1="355.70" y1="450.50" x2="367.04" y2="450.50" stroke="#f00" stroke-width="2.4"/>
<path d="M380.4,378.0 L380.4,390.5 L380.4,403.0 L381.2,415.5 L383.2,428.0 L385.4,440.5 L385.9,452.9 L385.1,465.4 L383.2,477.9 L381.3,490.4 L380.4,502.9 L380.4,515.4 L380.4,526.4 L380.1,526.4 L380.1,515.4 L380.1,502.9 L379.2,490.4 L377.3,477.9 L375.4,465.4 L374.6,452.9 L375.1,440.5 L377.3,428.0 L379.3,415.5 L380.1,403.0 L380.1,390.5 L380.1,378.0Z" fill="#18d9c8" fill-opacity="0.5" stroke="#000" stroke-width="0.7" stroke-linejoin="round"/><line x1="374.58" y1="450.50" x2="385.92" y2="450.50" stroke="#000" stroke-width="2.4"/><line x1="374.59" y1="451.10" x2="385.92" y2="451.10" stroke="#f00" stroke-width="2.4"/>
<path d="M399.3,377.4 L399.3,389.9 L399.6,402.3 L400.7,414.8 L402.8,427.2 L404.5,439.7 L404.8,452.1 L404.0,464.6 L402.2,477.1 L400.4,489.5 L399.4,502.0 L399.3,514.4 L399.3,526.4 L399.0,526.4 L399.0,514.4 L398.9,502.0 L397.9,489.5 L396.1,477.1 L394.3,464.6 L393.5,452.1 L393.8,439.7 L395.5,427.2 L397.6,414.8 L398.7,402.3 L399.0,389.9 L399.0,377.4Z" fill="#18e0bd" fill-opacity="0.5" stroke="#000" stroke-width="0.7" stroke-linejoin="round"/><line x1="393.47" y1="448.60" x2="404.81" y2="448.60" stroke="#000" stroke-width="2.4"/><line x1="393.47" y1="446.60" x2="404.81" y2="446.60" stroke="#f00" stroke-width="2.4"/>
<path d="M418.1,315.0 L418.1,327.5 L418.3,340.0 L419.0,352.5 L420.2,365.0 L421.5,377.5 L422.0,390.0 L421.9,402.5 L422.4,415.0 L423.3,427.4 L423.7,439.9 L423.4,452.4 L422.4,464.9 L420.8,477.4 L419.3,489.9 L418.4,502.4 L418.1,514.9 L418.1,526.4 L417.9,526.4 L417.9,514.9 L417.7,502.4 L416.8,489.9 L415.3,477.4 L413.7,464.9 L412.7,452.4 L412.4,439.9 L412.7,427.4 L413.7,415.0 L414.1,402.5 L414.1,390.0 L414.6,377.5 L415.8,365.0 L417.1,352.5 L417.7,340.0 L417.9,327.5 L417.9,315.0Z" fill="#1ce6b4" fill-opacity="0.5" stroke="#000" stroke-width="0.7" stroke-linejoin="round"/><line x1="413.31" y1="419.80" x2="422.75" y2="419.80" stroke="#000" stroke-width="2.4"/><line x1="412.41" y1="434.00" x2="423.65" y2="434.00" stroke="#f00" stroke-width="2.4"/>
<path d="M437.0,371.0 L437.0,383.5 L437.3,396.0 L438.2,408.5 L440.0,421.0 L441.9,433.5 L442.6,446.0 L442.3,458.4 L440.9,470.9 L439.0,483.4 L437.6,495.9 L437.1,508.4 L437.0,520.9 L437.0,526.4 L436.8,526.4 L436.8,520.9 L436.8,508.4 L436.2,495.9 L434.8,483.4 L432.9,470.9 L431.6,458.4 L431.2,446.0 L431.9,433.5 L433.8,421.0 L435.6,408.5 L436.6,396.0 L436.8,383.5 L436.8,371.0Z" fill="#22ebaa" fill-opacity="0.5" stroke="#000" stroke-width="0.7" stroke-linejoin="round"/><line x1="431.24" y1="446.00" x2="442.58" y2="446.00" stroke="#000" stroke-width="2.4"/><line x1="431.24" y1="446.40" x2="442.58" y2="446.40" stroke="#f00" stroke-width="2.4"/>
<path d="M455.9,296.0 L455.9,308.5 L456.2,321.0 L456.8,333.5 L457.5,346.0 L458.2,358.5 L458.5,371.0 L458.5,383.5 L458.8,396.0 L459.7,408.5 L460.8,420.9 L461.4,433.4 L461.4,445.9 L460.8,458.4 L459.6,470.9 L458.1,483.4 L456.8,495.9 L456.1,508.4 L455.9,520.9 L455.9,526.4 L455.7,526.4 L455.7,520.9 L455.5,508.4 L454.8,495.9 L453.5,483.4 L452.0,470.9 L450.8,458.4 L450.2,445.9 L450.2,433.4 L450.8,420.9 L451.9,408.5 L452.8,396.0 L453.1,383.5 L453.1,371.0 L453.4,358.5 L454.1,346.0 L454.8,333.5 L455.4,321.0 L455.7,308.5 L455.7,296.0Z" fill="#2cf09e" fill-opacity="0.5" stroke="#000" stroke-width="0.7" stroke-linejoin="round"/><line x1="451.19" y1="416.30" x2="460.41" y2="416.30" stroke="#000" stroke-width="2.4"/><line x1="450.14" y1="434.40" x2="461.46" y2="434.40" stroke="#f00" stroke-width="2.4"/>
<path d="M474.8,371.0 L474.8,383.5 L474.8,396.0 L475.4,408.5 L477.3,421.0 L479.7,433.5 L480.3,442.0 L480.2,454.4 L479.2,466.9 L477.4,479.4 L475.9,491.9 L475.0,504.4 L474.8,516.9 L474.8,526.4 L474.6,526.4 L474.6,516.9 L474.4,504.4 L473.5,491.9 L471.9,479.4 L470.2,466.9 L469.2,454.4 L469.0,442.0 L469.7,433.5 L472.1,421.0 L473.9,408.5 L474.6,396.0 L474.6,383.5 L474.6,371.0Z" fill="#3cf58e" fill-opacity="0.5" stroke="#000" stroke-width="0.7" stroke-linejoin="round"/><line x1="469.02" y1="444.00" x2="480.36" y2="444.00" stroke="#000" stroke-width="2.4"/><line x1="469.02" y1="444.50" x2="480.36" y2="444.50" stroke="#f00" stroke-width="2.4"/>
<path d="M493.7,343.4 L493.7,355.9 L493.7,368.3 L493.7,380.8 L493.8,393.3 L494.6,405.7 L496.4,418.2 L498.4,430.7 L499.2,442.1 L499.1,454.6 L498.0,467.1 L496.3,479.5 L494.7,492.0 L493.9,504.5 L493.7,516.9 L493.7,526.4 L493.5,526.4 L493.5,516.9 L493.3,504.5 L492.4,492.0 L490.8,479.5 L489.1,467.1 L488.1,454.6 L487.9,442.1 L488.7,430.7 L490.7,418.2 L492.5,405.7 L493.3,393.3 L493.5,380.8 L493.5,368.3 L493.5,355.9 L493.5,343.4Z" fill="#4af880" fill-opacity="0.5" stroke="#000" stroke-width="0.7" stroke-linejoin="round"/><line x1="487.91" y1="444.50" x2="499.24" y2="444.50" stroke="#000" stroke-width="2.4"/><line x1="487.91" y1="444.90" x2="499.24" y2="444.90" stroke="#f00" stroke-width="2.4"/>
<path d="M512.6,369.4 L512.6,381.9 L512.7,394.3 L513.5,406.8 L515.0,419.2 L516.9,431.7 L518.0,444.2 L518.1,456.6 L517.2,469.1 L515.5,481.5 L513.7,494.0 L512.8,506.5 L512.6,518.9 L512.6,526.4 L512.3,526.4 L512.3,518.9 L512.1,506.5 L511.2,494.0 L509.5,481.5 L507.7,469.1 L506.9,456.6 L506.9,444.2 L508.0,431.7 L509.9,419.2 L511.4,406.8 L512.2,394.3 L512.3,381.9 L512.3,369.4Z" fill="#59fb73" fill-opacity="0.5" stroke="#000" stroke-width="0.7" stroke-linejoin="round"/><line x1="506.79" y1="449.70" x2="518.13" y2="449.70" stroke="#000" stroke-width="2.4"/><line x1="506.79" y1="451.30" x2="518.13" y2="451.30" stroke="#f00" stroke-width="2.4"/>
<path d="M531.5,352.6 L531.5,365.1 L531.5,377.6 L531.7,390.1 L532.6,402.5 L534.1,415.0 L535.9,427.5 L536.9,440.0 L537.0,452.5 L536.3,465.0 L534.9,477.5 L533.3,489.9 L532.1,502.4 L531.5,514.9 L531.5,526.4 L531.2,526.4 L531.2,514.9 L530.6,502.4 L529.4,489.9 L527.8,477.5 L526.4,465.0 L525.7,452.5 L525.8,440.0 L526.8,427.5 L528.6,415.0 L530.1,402.5 L531.0,390.1 L531.2,377.6 L531.2,365.1 L531.2,352.6Z" fill="#69fd66" fill-opacity="0.5" stroke="#000" stroke-width="0.7" stroke-linejoin="round"/><line x1="525.68" y1="445.00" x2="537.02" y2="445.00" stroke="#000" stroke-width="2.4"/><line x1="525.70" y1="450.90" x2="536.99" y2="450.90" stroke="#f00" stroke-width="2.4"/>
<path d="M550.3,346.0 L550.3,358.5 L550.3,371.0 L550.4,383.5 L550.9,396.0 L552.2,408.5 L554.0,421.0 L555.5,433.5 L555.9,445.9 L555.6,458.4 L554.4,470.9 L552.7,483.4 L551.3,495.9 L550.5,508.4 L550.3,520.9 L550.3,526.4 L550.1,526.4 L550.1,520.9 L549.9,508.4 L549.2,495.9 L547.8,483.4 L546.1,470.9 L544.9,458.4 L544.6,445.9 L544.9,433.5 L546.4,421.0 L548.3,408.5 L549.5,396.0 L550.1,383.5 L550.1,371.0 L550.1,358.5 L550.1,346.0Z" fill="#79fe59" fill-opacity="0.5" stroke="#000" stroke-width="0.7" stroke-linejoin="round"/><line x1="544.58" y1="441.60" x2="555.90" y2="441.60" stroke="#000" stroke-width="2.4"/><line x1="544.57" y1="445.30" x2="555.90" y2="445.30" stroke="#f00" stroke-width="2.4"/>
<path d="M569.2,346.0 L569.2,358.5 L569.2,371.0 L569.5,383.5 L570.4,396.0 L571.9,408.5 L573.6,421.0 L574.7,433.5 L574.7,445.9 L574.1,458.4 L572.5,470.9 L570.8,483.4 L569.7,495.9 L569.2,508.4 L569.2,520.9 L569.2,526.4 L569.0,526.4 L569.0,520.9 L569.0,508.4 L568.6,495.9 L567.4,483.4 L565.7,470.9 L564.2,458.4 L563.5,445.9 L563.6,433.5 L564.6,421.0 L566.4,408.5 L567.9,396.0 L568.7,383.5 L569.0,371.0 L569.0,358.5 L569.0,346.0Z" fill="#88ff4e" fill-opacity="0.5" stroke="#000" stroke-width="0.7" stroke-linejoin="round"/><line x1="563.49" y1="436.10" x2="574.76" y2="436.10" stroke="#000" stroke-width="2.4"/><line x1="563.45" y1="439.60" x2="574.79" y2="439.60" stroke="#f00" stroke-width="2.4"/>
<path d="M588.1,299.0 L588.2,311.5 L588.4,324.0 L588.9,336.5 L589.7,349.0 L590.5,361.5 L591.1,374.0 L591.4,386.5 L591.8,399.0 L592.7,411.5 L593.5,423.9 L593.6,436.4 L593.1,448.9 L592.0,461.4 L590.4,473.9 L589.0,486.4 L588.3,498.9 L588.1,511.4 L588.1,523.9 L588.1,526.4 L587.9,526.4 L587.9,523.9 L587.9,511.4 L587.7,498.9 L587.0,486.4 L585.6,473.9 L584.0,461.4 L582.9,448.9 L582.4,436.4 L582.5,423.9 L583.4,411.5 L584.2,399.0 L584.6,386.5 L584.9,374.0 L585.5,361.5 L586.3,349.0 L587.1,336.5 L587.6,324.0 L587.9,311.5 L587.9,299.0Z" fill="#96fe44" fill-opacity="0.5" stroke="#000" stroke-width="0.7" stroke-linejoin="round"/><line x1="582.87" y1="417.70" x2="593.15" y2="417.70" stroke="#000" stroke-width="2.4"/><line x1="582.39" y1="434.60" x2="593.63" y2="434.60" stroke="#f00" stroke-width="2.4"/>
<path d="M607.0,325.0 L607.0,337.5 L607.0,350.0 L607.1,362.5 L607.3,375.0 L607.9,387.5 L608.9,400.0 L610.2,412.5 L611.5,425.0 L612.3,437.4 L612.6,449.9 L612.1,462.4 L610.3,474.9 L608.3,487.4 L607.2,499.9 L607.0,512.4 L607.0,524.9 L607.0,526.4 L606.8,526.4 L606.8,524.9 L606.8,512.4 L606.6,499.9 L605.5,487.4 L603.5,474.9 L601.7,462.4 L601.2,449.9 L601.5,437.4 L602.3,425.0 L603.6,412.5 L604.9,400.0 L605.9,387.5 L606.5,375.0 L606.7,362.5 L606.8,350.0 L606.8,337.5 L606.8,325.0Z" fill="#a4fc3c" fill-opacity="0.5" stroke="#000" stroke-width="0.7" stroke-linejoin="round"/><line x1="601.31" y1="442.00" x2="612.49" y2="442.00" stroke="#000" stroke-width="2.4"/><line x1="601.24" y1="452.00" x2="612.56" y2="452.00" stroke="#f00" stroke-width="2.4"/>
<path d="M625.9,310.0 L625.9,322.5 L626.2,335.0 L626.6,347.5 L627.3,360.0 L628.0,372.5 L628.5,385.0 L628.6,397.5 L628.8,410.0 L629.6,422.4 L630.8,434.9 L631.4,447.4 L631.2,459.9 L629.8,472.4 L627.7,484.9 L626.3,497.4 L625.9,509.9 L625.9,522.4 L625.9,526.4 L625.7,526.4 L625.7,522.4 L625.7,509.9 L625.3,497.4 L623.8,484.9 L621.7,472.4 L620.4,459.9 L620.1,447.4 L620.8,434.9 L622.0,422.4 L622.8,410.0 L622.9,397.5 L623.1,385.0 L623.6,372.5 L624.3,360.0 L624.9,347.5 L625.4,335.0 L625.6,322.5 L625.7,310.0Z" fill="#affa37" fill-opacity="0.5" stroke="#000" stroke-width="0.7" stroke-linejoin="round"/><line x1="621.05" y1="432.30" x2="630.52" y2="432.30" stroke="#000" stroke-width="2.4"/><line x1="620.20" y1="454.60" x2="631.37" y2="454.60" stroke="#f00" stroke-width="2.4"/>
<path d="M644.8,365.6 L644.8,378.1 L644.8,390.6 L644.9,403.1 L645.8,415.5 L647.7,428.0 L649.7,440.5 L650.3,453.0 L649.7,465.0 L647.7,477.5 L645.6,489.9 L644.8,502.4 L644.8,514.9 L644.8,526.4 L644.6,526.4 L644.6,514.9 L644.5,502.4 L643.7,489.9 L641.7,477.5 L639.6,465.0 L639.0,453.0 L639.6,440.5 L641.6,428.0 L643.5,415.5 L644.4,403.1 L644.6,390.6 L644.6,378.1 L644.6,365.6Z" fill="#b9f635" fill-opacity="0.5" stroke="#000" stroke-width="0.7" stroke-linejoin="round"/><line x1="639.00" y1="451.50" x2="650.34" y2="451.50" stroke="#000" stroke-width="2.4"/><line x1="639.00" y1="452.60" x2="650.34" y2="452.60" stroke="#f00" stroke-width="2.4"/>
<path d="M663.7,365.0 L663.7,377.5 L663.7,390.0 L663.8,402.5 L664.6,415.0 L666.5,427.5 L668.5,440.0 L669.2,452.4 L668.7,464.4 L666.6,476.9 L664.6,489.4 L663.7,501.9 L663.7,514.4 L663.7,526.4 L663.4,526.4 L663.4,514.4 L663.4,501.9 L662.5,489.4 L660.5,476.9 L658.5,464.4 L657.9,452.4 L658.6,440.0 L660.6,427.5 L662.5,415.0 L663.3,402.5 L663.4,390.0 L663.4,377.5 L663.4,365.0Z" fill="#c3f134" fill-opacity="0.5" stroke="#000" stroke-width="0.7" stroke-linejoin="round"/><line x1="657.89" y1="450.50" x2="669.23" y2="450.50" stroke="#000" stroke-width="2.4"/><line x1="657.89" y1="452.80" x2="669.23" y2="452.80" stroke="#f00" stroke-width="2.4"/>
<path d="M682.6,317.0 L682.6,329.5 L682.9,342.0 L683.4,354.5 L684.1,367.0 L684.8,379.5 L685.3,392.0 L685.7,404.5 L686.5,417.0 L687.7,429.4 L688.1,441.9 L687.6,454.4 L686.2,466.9 L684.3,479.4 L682.9,491.9 L682.6,504.4 L682.6,516.9 L682.6,526.4 L682.3,526.4 L682.3,516.9 L682.3,504.4 L681.9,491.9 L680.6,479.4 L678.7,466.9 L677.3,454.4 L676.8,441.9 L677.2,429.4 L678.4,417.0 L679.2,404.5 L679.6,392.0 L680.1,379.5 L680.8,367.0 L681.5,354.5 L682.0,342.0 L682.3,329.5 L682.3,317.0Z" fill="#cdec34" fill-opacity="0.5" stroke="#000" stroke-width="0.7" stroke-linejoin="round"/><line x1="677.48" y1="426.40" x2="687.41" y2="426.40" stroke="#000" stroke-width="2.4"/><line x1="676.80" y1="442.40" x2="688.09" y2="442.40" stroke="#f00" stroke-width="2.4"/>
<path d="M701.4,375.0 L701.4,387.5 L701.6,400.0 L702.3,412.5 L703.9,425.0 L705.9,437.5 L707.0,450.0 L706.8,462.4 L705.4,474.9 L703.3,487.4 L701.9,499.9 L701.4,512.4 L701.4,524.9 L701.4,526.4 L701.2,526.4 L701.2,524.9 L701.2,512.4 L700.8,499.9 L699.4,487.4 L697.2,474.9 L695.9,462.4 L695.7,450.0 L696.8,437.5 L698.8,425.0 L700.4,412.5 L701.1,400.0 L701.2,387.5 L701.2,375.0Z" fill="#d7e535" fill-opacity="0.5" stroke="#000" stroke-width="0.7" stroke-linejoin="round"/><line x1="695.66" y1="453.60" x2="707.00" y2="453.60" stroke="#000" stroke-width="2.4"/><line x1="695.67" y1="455.40" x2="707.00" y2="455.40" stroke="#f00" stroke-width="2.4"/>
<path d="M720.3,390.0 L720.3,402.5 L720.7,415.0 L722.0,427.5 L724.2,440.0 L725.7,451.0 L725.8,463.4 L724.5,475.9 L722.3,488.4 L720.7,500.9 L720.3,513.4 L720.3,525.9 L720.3,526.4 L720.1,526.4 L720.1,525.9 L720.1,513.4 L719.7,500.9 L718.2,488.4 L715.9,475.9 L714.6,463.4 L714.7,451.0 L716.2,440.0 L718.4,427.5 L719.7,415.0 L720.1,402.5 L720.1,390.0Z" fill="#dfdf37" fill-opacity="0.5" stroke="#000" stroke-width="0.7" stroke-linejoin="round"/><line x1="714.55" y1="457.20" x2="725.89" y2="457.20" stroke="#000" stroke-width="2.4"/><line x1="714.55" y1="457.70" x2="725.89" y2="457.70" stroke="#f00" stroke-width="2.4"/>
<path d="M739.2,314.0 L739.2,326.5 L739.2,339.0 L739.2,351.5 L739.2,364.0 L739.2,376.5 L739.5,389.0 L740.4,401.5 L742.0,414.0 L743.8,426.4 L744.7,438.9 L744.7,451.4 L743.6,463.9 L741.7,476.4 L740.0,488.9 L739.3,501.4 L739.2,513.9 L739.2,526.4 L739.0,526.4 L739.0,513.9 L738.9,501.4 L738.2,488.9 L736.6,476.4 L734.6,463.9 L733.5,451.4 L733.5,438.9 L734.5,426.4 L736.2,414.0 L737.8,401.5 L738.7,389.0 L739.0,376.5 L739.0,364.0 L739.0,351.5 L739.0,339.0 L739.0,326.5 L739.0,314.0Z" fill="#e7d739" fill-opacity="0.5" stroke="#000" stroke-width="0.7" stroke-linejoin="round"/><line x1="733.44" y1="443.50" x2="744.78" y2="443.50" stroke="#000" stroke-width="2.4"/><line x1="733.46" y1="447.80" x2="744.75" y2="447.80" stroke="#f00" stroke-width="2.4"/>
<path d="M758.1,354.0 L758.1,366.5 L758.1,379.0 L758.3,391.5 L759.0,404.0 L760.6,416.5 L762.5,429.0 L763.6,441.4 L763.5,453.9 L762.4,466.4 L760.5,478.9 L758.8,491.4 L758.2,503.9 L758.1,516.4 L758.1,526.4 L757.9,526.4 L757.9,516.4 L757.8,503.9 L757.1,491.4 L755.5,478.9 L753.6,466.4 L752.5,453.9 L752.4,441.4 L753.5,429.0 L755.4,416.5 L757.0,404.0 L757.7,391.5 L757.9,379.0 L757.9,366.5 L757.9,354.0Z" fill="#efcd3a" fill-opacity="0.5" stroke="#000" stroke-width="0.7" stroke-linejoin="round"/><line x1="752.33" y1="444.50" x2="763.66" y2="444.50" stroke="#000" stroke-width="2.4"/><line x1="752.33" y1="447.40" x2="763.66" y2="447.40" stroke="#f00" stroke-width="2.4"/>
<path d="M777.0,359.0 L777.0,371.5 L777.0,384.0 L777.6,396.5 L779.1,409.0 L781.4,421.5 L782.5,431.5 L782.5,443.9 L781.6,456.4 L780.0,468.9 L778.3,481.4 L777.3,493.9 L777.0,506.4 L777.0,518.9 L777.0,526.4 L776.8,526.4 L776.8,518.9 L776.8,506.4 L776.4,493.9 L775.4,481.4 L773.7,468.9 L772.1,456.4 L771.3,443.9 L771.3,431.5 L772.4,421.5 L774.6,409.0 L776.2,396.5 L776.8,384.0 L776.8,371.5 L776.8,359.0Z" fill="#f5c53a" fill-opacity="0.5" stroke="#000" stroke-width="0.7" stroke-linejoin="round"/><line x1="771.21" y1="437.80" x2="782.55" y2="437.80" stroke="#000" stroke-width="2.4"/><line x1="771.21" y1="438.10" x2="782.55" y2="438.10" stroke="#f00" stroke-width="2.4"/>
<path d="M795.9,382.4 L795.9,394.9 L796.0,407.3 L796.9,419.8 L798.8,432.2 L800.8,444.7 L801.4,457.1 L800.8,469.1 L798.7,481.6 L796.7,494.0 L795.9,506.5 L795.9,518.9 L795.9,526.4 L795.7,526.4 L795.7,518.9 L795.6,506.5 L794.8,494.0 L792.8,481.6 L790.8,469.1 L790.1,457.1 L790.7,444.7 L792.8,432.2 L794.7,419.8 L795.5,407.3 L795.7,394.9 L795.7,382.4Z" fill="#f9bc39" fill-opacity="0.5" stroke="#000" stroke-width="0.7" stroke-linejoin="round"/><line x1="790.10" y1="455.20" x2="801.44" y2="455.20" stroke="#000" stroke-width="2.4"/><line x1="790.10" y1="456.70" x2="801.43" y2="456.70" stroke="#f00" stroke-width="2.4"/>
<path d="M814.8,328.6 L814.8,341.1 L814.8,353.6 L814.8,366.1 L814.8,378.5 L815.3,391.0 L816.4,403.5 L818.0,416.0 L819.6,428.5 L820.3,441.0 L820.2,453.5 L819.2,466.0 L817.5,478.4 L815.9,490.9 L815.0,503.4 L814.8,515.9 L814.8,526.4 L814.5,526.4 L814.5,515.9 L814.3,503.4 L813.4,490.9 L811.8,478.4 L810.1,466.0 L809.1,453.5 L809.0,441.0 L809.7,428.5 L811.3,416.0 L812.9,403.5 L814.0,391.0 L814.5,378.5 L814.5,366.1 L814.5,353.6 L814.5,341.1 L814.5,328.6Z" fill="#fcb336" fill-opacity="0.5" stroke="#000" stroke-width="0.7" stroke-linejoin="round"/><line x1="808.98" y1="442.90" x2="820.32" y2="442.90" stroke="#000" stroke-width="2.4"/><line x1="808.99" y1="446.60" x2="820.32" y2="446.60" stroke="#f00" stroke-width="2.4"/>
<path d="M833.7,361.4 L833.7,373.9 L833.7,386.3 L833.8,398.8 L834.8,411.2 L836.9,423.7 L838.8,435.7 L839.2,448.1 L838.6,460.6 L836.9,473.1 L835.1,485.5 L834.0,498.0 L833.7,510.4 L833.7,522.9 L833.7,526.4 L833.4,526.4 L833.4,522.9 L833.4,510.4 L833.1,498.0 L832.0,485.5 L830.1,473.1 L828.5,460.6 L827.9,448.1 L828.2,435.7 L830.1,423.7 L832.3,411.2 L833.3,398.8 L833.4,386.3 L833.4,373.9 L833.4,361.4Z" fill="#fea933" fill-opacity="0.5" stroke="#000" stroke-width="0.7" stroke-linejoin="round"/><line x1="827.87" y1="443.30" x2="839.21" y2="443.30" stroke="#000" stroke-width="2.4"/><line x1="827.87" y1="444.90" x2="839.21" y2="444.90" stroke="#f00" stroke-width="2.4"/>
<path d="M852.5,364.4 L852.5,376.9 L852.5,389.3 L852.7,401.8 L853.9,414.2 L856.2,426.7 L857.8,436.7 L858.1,449.1 L857.3,461.6 L855.7,474.1 L853.9,486.5 L852.8,499.0 L852.5,511.4 L852.5,523.9 L852.5,526.4 L852.3,526.4 L852.3,523.9 L852.3,511.4 L852.0,499.0 L851.0,486.5 L849.2,474.1 L847.5,461.6 L846.8,449.1 L847.1,436.7 L848.6,426.7 L851.0,414.2 L852.1,401.8 L852.3,389.3 L852.3,376.9 L852.3,364.4Z" fill="#fe9e2f" fill-opacity="0.5" stroke="#000" stroke-width="0.7" stroke-linejoin="round"/><line x1="846.76" y1="443.50" x2="858.10" y2="443.50" stroke="#000" stroke-width="2.4"/><line x1="846.76" y1="443.70" x2="858.10" y2="443.70" stroke="#f00" stroke-width="2.4"/>
<path d="M871.4,372.4 L871.4,384.9 L871.5,397.3 L872.3,409.8 L873.9,422.2 L876.0,434.7 L877.0,446.7 L876.8,459.1 L875.6,471.6 L873.6,484.0 L872.0,496.5 L871.4,509.0 L871.4,521.4 L871.4,526.4 L871.2,526.4 L871.2,521.4 L871.2,509.0 L870.6,496.5 L869.1,484.0 L867.1,471.6 L865.8,459.1 L865.7,446.7 L866.7,434.7 L868.7,422.2 L870.4,409.8 L871.1,397.3 L871.2,384.9 L871.2,372.4Z" fill="#fe932a" fill-opacity="0.5" stroke="#000" stroke-width="0.7" stroke-linejoin="round"/><line x1="865.65" y1="449.00" x2="876.98" y2="449.00" stroke="#000" stroke-width="2.4"/><line x1="865.65" y1="451.70" x2="876.98" y2="451.70" stroke="#f00" stroke-width="2.4"/>
<path d="M890.3,364.0 L890.3,376.5 L890.3,389.0 L890.6,401.5 L891.7,414.0 L893.7,426.5 L895.5,439.0 L895.9,451.4 L895.3,463.9 L893.7,476.4 L891.8,488.9 L890.7,501.4 L890.3,513.9 L890.3,526.4 L890.1,526.4 L890.1,513.9 L889.7,501.4 L888.6,488.9 L886.7,476.4 L885.1,463.9 L884.5,451.4 L884.9,439.0 L886.7,426.5 L888.7,414.0 L889.8,401.5 L890.1,389.0 L890.1,376.5 L890.1,364.0Z" fill="#fc8725" fill-opacity="0.5" stroke="#000" stroke-width="0.7" stroke-linejoin="round"/><line x1="884.53" y1="449.30" x2="895.87" y2="449.30" stroke="#000" stroke-width="2.4"/><line x1="884.53" y1="447.40" x2="895.87" y2="447.40" stroke="#f00" stroke-width="2.4"/>
<path d="M909.2,370.6 L909.2,383.1 L909.4,395.6 L910.3,408.1 L912.1,420.5 L914.0,433.0 L914.8,445.5 L914.5,458.0 L913.2,470.5 L911.3,483.0 L909.8,495.4 L909.2,507.9 L909.2,520.4 L909.2,526.4 L909.0,526.4 L909.0,520.4 L908.9,507.9 L908.3,495.4 L906.9,483.0 L905.0,470.5 L903.7,458.0 L903.4,445.5 L904.1,433.0 L906.0,420.5 L907.8,408.1 L908.8,395.6 L909.0,383.1 L909.0,370.6Z" fill="#f9781e" fill-opacity="0.5" stroke="#000" stroke-width="0.7" stroke-linejoin="round"/><line x1="903.42" y1="445.20" x2="914.76" y2="445.20" stroke="#000" stroke-width="2.4"/><line x1="903.42" y1="445.50" x2="914.76" y2="445.50" stroke="#f00" stroke-width="2.4"/>
<path d="M928.1,276.9 L928.1,289.4 L928.1,301.8 L928.2,314.3 L928.5,326.8 L928.8,339.3 L929.0,351.8 L929.0,364.2 L928.9,376.7 L929.1,389.2 L930.1,401.6 L931.6,414.1 L933.1,426.6 L933.6,439.1 L933.4,451.5 L932.1,464.0 L930.1,476.5 L928.7,489.0 L928.1,501.4 L928.1,513.9 L928.1,526.4 L927.9,526.4 L927.9,513.9 L927.8,501.4 L927.3,489.0 L925.8,476.5 L923.9,464.0 L922.6,451.5 L922.3,439.1 L922.9,426.6 L924.3,414.1 L925.9,401.6 L926.8,389.2 L927.1,376.7 L927.0,364.2 L927.0,351.8 L927.1,339.3 L927.4,326.8 L927.7,314.3 L927.9,301.8 L927.9,289.4 L927.9,276.9Z" fill="#f66c19" fill-opacity="0.5" stroke="#000" stroke-width="0.7" stroke-linejoin="round"/><line x1="922.82" y1="427.20" x2="933.13" y2="427.20" stroke="#000" stroke-width="2.4"/><line x1="922.31" y1="439.40" x2="933.65" y2="439.40" stroke="#f00" stroke-width="2.4"/>
<path d="M947.0,276.9 L947.0,289.4 L947.0,301.8 L947.0,314.3 L947.0,326.8 L947.0,339.3 L947.0,351.8 L947.0,364.2 L947.0,376.7 L947.0,389.2 L947.0,401.6 L947.3,414.1 L948.8,424.6 L951.6,437.1 L952.4,443.1 L952.4,455.5 L951.1,468.0 L948.9,480.5 L947.4,493.0 L947.0,505.4 L947.0,517.9 L947.0,526.4 L946.7,526.4 L946.7,517.9 L946.7,505.4 L946.3,493.0 L944.8,480.5 L942.7,468.0 L941.4,455.5 L941.3,443.1 L942.1,437.1 L944.9,424.6 L946.4,414.1 L946.7,401.6 L946.7,389.2 L946.7,376.7 L946.7,364.2 L946.7,351.8 L946.7,339.3 L946.7,326.8 L946.7,314.3 L946.7,301.8 L946.7,289.4 L946.7,276.9Z" fill="#f26014" fill-opacity="0.5" stroke="#000" stroke-width="0.7" stroke-linejoin="round"/><line x1="941.51" y1="441.00" x2="952.21" y2="441.00" stroke="#000" stroke-width="2.4"/><line x1="941.19" y1="447.00" x2="952.53" y2="447.00" stroke="#f00" stroke-width="2.4"/>
<path d="M965.9,328.4 L965.9,340.9 L965.9,353.3 L965.9,365.8 L965.9,378.3 L966.4,390.7 L967.5,403.2 L969.2,415.7 L970.8,428.1 L971.4,440.6 L971.2,453.1 L970.2,465.6 L968.4,478.0 L966.9,490.5 L966.1,503.0 L965.9,515.4 L965.9,526.4 L965.6,526.4 L965.6,515.4 L965.4,503.0 L964.6,490.5 L963.1,478.0 L961.3,465.6 L960.3,453.1 L960.1,440.6 L960.7,428.1 L962.3,415.7 L964.0,403.2 L965.1,390.7 L965.6,378.3 L965.6,365.8 L965.6,353.3 L965.6,340.9 L965.6,328.4Z" fill="#ed5510" fill-opacity="0.5" stroke="#000" stroke-width="0.7" stroke-linejoin="round"/><line x1="960.09" y1="440.00" x2="971.41" y2="440.00" stroke="#000" stroke-width="2.4"/><line x1="960.08" y1="443.90" x2="971.42" y2="443.90" stroke="#f00" stroke-width="2.4"/>
<path d="M984.8,357.6 L984.8,370.1 L984.8,382.6 L984.9,395.1 L985.6,407.5 L987.4,420.0 L989.4,432.5 L990.3,444.0 L990.1,456.5 L988.9,469.0 L987.0,481.5 L985.5,493.9 L984.8,506.4 L984.8,518.9 L984.8,526.4 L984.5,526.4 L984.5,518.9 L984.4,506.4 L983.8,493.9 L982.2,481.5 L980.4,469.0 L979.2,456.5 L979.0,444.0 L979.8,432.5 L981.9,420.0 L983.6,407.5 L984.4,395.1 L984.5,382.6 L984.5,370.1 L984.5,357.6Z" fill="#e84b0c" fill-opacity="0.5" stroke="#000" stroke-width="0.7" stroke-linejoin="round"/><line x1="978.97" y1="445.70" x2="990.31" y2="445.70" stroke="#000" stroke-width="2.4"/><line x1="978.97" y1="446.60" x2="990.31" y2="446.60" stroke="#f00" stroke-width="2.4"/>
<path d="M1003.6,369.4 L1003.6,381.9 L1003.6,394.3 L1003.7,406.8 L1004.6,419.2 L1006.6,431.7 L1008.7,444.2 L1009.2,456.6 L1008.4,469.1 L1006.5,481.5 L1004.6,494.0 L1003.7,506.5 L1003.6,518.9 L1003.6,526.4 L1003.4,526.4 L1003.4,518.9 L1003.3,506.5 L1002.5,494.0 L1000.6,481.5 L998.6,469.1 L997.9,456.6 L998.3,444.2 L1000.4,431.7 L1002.4,419.2 L1003.3,406.8 L1003.4,394.3 L1003.4,381.9 L1003.4,369.4Z" fill="#e2430a" fill-opacity="0.5" stroke="#000" stroke-width="0.7" stroke-linejoin="round"/><line x1="997.86" y1="454.50" x2="1009.19" y2="454.50" stroke="#000" stroke-width="2.4"/><line x1="997.86" y1="454.80" x2="1009.19" y2="454.80" stroke="#f00" stroke-width="2.4"/>
<path d="M1022.5,322.0 L1022.5,334.5 L1022.5,347.0 L1022.5,359.5 L1022.5,372.0 L1022.5,384.5 L1022.9,397.0 L1024.2,409.5 L1026.2,422.0 L1027.8,434.4 L1028.1,446.9 L1027.5,459.4 L1026.0,471.9 L1024.2,484.4 L1023.0,496.9 L1022.5,509.4 L1022.5,521.9 L1022.5,526.4 L1022.3,526.4 L1022.3,521.9 L1022.3,509.4 L1021.8,496.9 L1020.6,484.4 L1018.9,471.9 L1017.4,459.4 L1016.8,446.9 L1017.0,434.4 L1018.6,422.0 L1020.6,409.5 L1021.9,397.0 L1022.3,384.5 L1022.3,372.0 L1022.3,359.5 L1022.3,347.0 L1022.3,334.5 L1022.3,322.0Z" fill="#dc3b07" fill-opacity="0.5" stroke="#000" stroke-width="0.7" stroke-linejoin="round"/><line x1="1016.74" y1="442.00" x2="1028.08" y2="442.00" stroke="#000" stroke-width="2.4"/><line x1="1016.74" y1="442.50" x2="1028.08" y2="442.50" stroke="#f00" stroke-width="2.4"/>
<path d="M1041.4,295.4 L1041.4,307.9 L1041.4,320.3 L1041.7,332.8 L1042.4,345.3 L1043.5,357.8 L1044.5,370.2 L1044.6,382.7 L1043.9,395.2 L1043.2,407.7 L1043.7,419.6 L1045.5,432.1 L1046.9,444.1 L1046.8,456.6 L1045.7,469.0 L1043.6,481.5 L1042.0,494.0 L1041.4,506.4 L1041.4,518.9 L1041.4,526.4 L1041.2,526.4 L1041.2,518.9 L1041.2,506.4 L1040.6,494.0 L1039.0,481.5 L1036.9,469.0 L1035.8,456.6 L1035.7,444.1 L1037.1,432.1 L1038.9,419.6 L1039.4,407.7 L1038.7,395.2 L1038.0,382.7 L1038.1,370.2 L1039.1,357.8 L1040.2,345.3 L1040.9,332.8 L1041.2,320.3 L1041.2,307.9 L1041.2,295.4Z" fill="#d43305" fill-opacity="0.5" stroke="#000" stroke-width="0.7" stroke-linejoin="round"/><line x1="1037.77" y1="427.60" x2="1044.82" y2="427.60" stroke="#000" stroke-width="2.4"/><line x1="1035.69" y1="445.00" x2="1046.90" y2="445.00" stroke="#f00" stroke-width="2.4"/>
<path d="M1060.3,337.4 L1060.3,349.9 L1060.3,362.3 L1060.3,374.8 L1060.5,387.3 L1061.2,399.7 L1062.7,412.2 L1064.5,424.7 L1065.7,437.1 L1065.8,449.6 L1065.2,462.1 L1063.6,474.5 L1061.9,487.0 L1060.8,499.5 L1060.3,511.9 L1060.3,524.4 L1060.3,526.4 L1060.1,526.4 L1060.1,524.4 L1060.1,511.9 L1059.6,499.5 L1058.5,487.0 L1056.7,474.5 L1055.2,462.1 L1054.6,449.6 L1054.7,437.1 L1055.9,424.7 L1057.7,412.2 L1059.2,399.7 L1059.9,387.3 L1060.1,374.8 L1060.1,362.3 L1060.1,349.9 L1060.1,337.4Z" fill="#ca2a04" fill-opacity="0.5" stroke="#000" stroke-width="0.7" stroke-linejoin="round"/><line x1="1054.52" y1="442.40" x2="1065.85" y2="442.40" stroke="#000" stroke-width="2.4"/><line x1="1054.52" y1="445.00" x2="1065.85" y2="445.00" stroke="#f00" stroke-width="2.4"/>
<path d="M1079.2,344.0 L1079.2,356.5 L1079.2,369.0 L1079.6,381.5 L1080.6,394.0 L1082.3,406.5 L1084.0,419.0 L1084.7,431.5 L1084.6,443.9 L1083.8,456.4 L1082.2,468.9 L1080.6,481.4 L1079.6,493.9 L1079.2,506.4 L1079.2,518.9 L1079.2,526.4 L1079.0,526.4 L1079.0,518.9 L1079.0,506.4 L1078.6,493.9 L1077.5,481.4 L1075.9,468.9 L1074.4,456.4 L1073.5,443.9 L1073.4,431.5 L1074.2,419.0 L1075.8,406.5 L1077.5,394.0 L1078.5,381.5 L1078.9,369.0 L1079.0,356.5 L1079.0,344.0Z" fill="#c12302" fill-opacity="0.5" stroke="#000" stroke-width="0.7" stroke-linejoin="round"/><line x1="1073.41" y1="431.80" x2="1084.73" y2="431.80" stroke="#000" stroke-width="2.4"/><line x1="1073.41" y1="432.10" x2="1084.73" y2="432.10" stroke="#f00" stroke-width="2.4"/>
<path d="M1098.1,369.0 L1098.1,381.5 L1098.2,394.0 L1098.8,406.5 L1100.4,419.0 L1102.4,431.5 L1103.6,443.5 L1103.5,455.9 L1102.4,468.4 L1100.4,480.9 L1098.8,493.4 L1098.1,505.9 L1098.1,518.4 L1098.1,526.4 L1097.8,526.4 L1097.8,518.4 L1097.8,505.9 L1097.1,493.4 L1095.5,480.9 L1093.5,468.4 L1092.4,455.9 L1092.4,443.5 L1093.5,431.5 L1095.5,419.0 L1097.1,406.5 L1097.8,394.0 L1097.8,381.5 L1097.8,369.0Z" fill="#b71d02" fill-opacity="0.5" stroke="#000" stroke-width="0.7" stroke-linejoin="round"/><line x1="1092.29" y1="446.80" x2="1103.63" y2="446.80" stroke="#000" stroke-width="2.4"/><line x1="1092.29" y1="448.60" x2="1103.63" y2="448.60" stroke="#f00" stroke-width="2.4"/>
<path d="M1117.0,355.0 L1117.0,367.5 L1117.0,380.0 L1117.0,392.5 L1117.6,405.0 L1119.0,417.5 L1121.1,430.0 L1122.4,442.4 L1122.4,454.9 L1121.4,467.4 L1119.5,479.9 L1117.8,492.4 L1117.0,504.9 L1117.0,517.4 L1117.0,526.4 L1116.7,526.4 L1116.7,517.4 L1116.7,504.9 L1115.9,492.4 L1114.2,479.9 L1112.3,467.4 L1111.3,454.9 L1111.3,442.4 L1112.6,430.0 L1114.6,417.5 L1116.1,405.0 L1116.7,392.5 L1116.7,380.0 L1116.7,367.5 L1116.7,355.0Z" fill="#ac1701" fill-opacity="0.5" stroke="#000" stroke-width="0.7" stroke-linejoin="round"/><line x1="1111.18" y1="446.00" x2="1122.51" y2="446.00" stroke="#000" stroke-width="2.4"/><line x1="1111.18" y1="447.60" x2="1122.52" y2="447.60" stroke="#f00" stroke-width="2.4"/>
<path d="M1135.8,372.0 L1135.8,384.5 L1135.9,397.0 L1136.7,409.5 L1138.7,422.0 L1140.8,434.5 L1141.4,447.0 L1140.7,459.4 L1138.7,471.9 L1136.8,484.4 L1135.9,496.9 L1135.8,509.4 L1135.8,521.9 L1135.8,526.4 L1135.6,526.4 L1135.6,521.9 L1135.6,509.4 L1135.6,496.9 L1134.7,484.4 L1132.7,471.9 L1130.7,459.4 L1130.1,447.0 L1130.7,434.5 L1132.8,422.0 L1134.7,409.5 L1135.5,397.0 L1135.6,384.5 L1135.6,372.0Z" fill="#a11201" fill-opacity="0.5" stroke="#000" stroke-width="0.7" stroke-linejoin="round"/><line x1="1130.06" y1="444.90" x2="1141.40" y2="444.90" stroke="#000" stroke-width="2.4"/><line x1="1130.07" y1="447.50" x2="1141.40" y2="447.50" stroke="#f00" stroke-width="2.4"/>
<path d="M1154.7,370.0 L1154.7,382.5 L1154.7,395.0 L1155.2,407.5 L1156.7,420.0 L1158.8,432.5 L1160.2,444.0 L1160.2,456.4 L1158.9,468.9 L1156.7,481.4 L1155.1,493.9 L1154.7,506.4 L1154.7,518.9 L1154.7,526.4 L1154.5,526.4 L1154.5,518.9 L1154.5,506.4 L1154.1,493.9 L1152.6,481.4 L1150.3,468.9 L1149.1,456.4 L1149.1,444.0 L1150.4,432.5 L1152.6,420.0 L1154.0,407.5 L1154.5,395.0 L1154.5,382.5 L1154.5,370.0Z" fill="#950d01" fill-opacity="0.5" stroke="#000" stroke-width="0.7" stroke-linejoin="round"/><line x1="1148.95" y1="448.80" x2="1160.29" y2="448.80" stroke="#000" stroke-width="2.4"/><line x1="1148.95" y1="450.30" x2="1160.29" y2="450.30" stroke="#f00" stroke-width="2.4"/>
<path d="M1173.6,330.7 L1173.6,343.2 L1173.6,355.7 L1174.0,368.1 L1174.7,380.6 L1175.7,393.1 L1176.9,405.6 L1178.1,418.1 L1179.1,430.5 L1179.0,443.0 L1178.3,455.5 L1177.1,468.0 L1175.4,480.5 L1174.2,493.0 L1173.6,505.4 L1173.6,517.9 L1173.6,526.4 L1173.4,526.4 L1173.4,517.9 L1173.4,505.4 L1172.8,493.0 L1171.6,480.5 L1170.0,468.0 L1168.7,455.5 L1168.0,443.0 L1168.0,430.5 L1168.9,418.1 L1170.1,405.6 L1171.3,393.1 L1172.4,380.6 L1173.1,368.1 L1173.4,355.7 L1173.4,343.2 L1173.4,330.7Z" fill="#880802" fill-opacity="0.5" stroke="#000" stroke-width="0.7" stroke-linejoin="round"/><line x1="1167.84" y1="436.70" x2="1179.18" y2="436.70" stroke="#000" stroke-width="2.4"/><line x1="1168.47" y1="451.40" x2="1178.55" y2="451.40" stroke="#f00" stroke-width="2.4"/>
<path d="M1192.5,315.3 L1192.5,327.8 L1192.5,340.3 L1192.5,352.7 L1192.8,365.2 L1193.4,377.7 L1194.4,390.2 L1195.8,402.6 L1197.1,415.1 L1198.0,427.6 L1197.8,440.1 L1197.1,452.5 L1196.1,465.0 L1194.7,477.5 L1193.4,490.0 L1192.7,502.4 L1192.5,514.9 L1192.5,526.4 L1192.3,526.4 L1192.3,514.9 L1192.1,502.4 L1191.3,490.0 L1190.1,477.5 L1188.7,465.0 L1187.7,452.5 L1187.0,440.1 L1186.8,427.6 L1187.7,415.1 L1189.0,402.6 L1190.3,390.2 L1191.4,377.7 L1192.0,365.2 L1192.3,352.7 L1192.3,340.3 L1192.3,327.8 L1192.3,315.3Z" fill="#7a0403" fill-opacity="0.5" stroke="#000" stroke-width="0.7" stroke-linejoin="round"/><line x1="1186.73" y1="433.00" x2="1198.06" y2="433.00" stroke="#000" stroke-width="2.4"/><line x1="1187.27" y1="446.00" x2="1197.52" y2="446.00" stroke="#f00" stroke-width="2.4"/>
</g>
<path d="M21.40 278.90v11M21.40 524.40v-11M40.29 278.90v11M40.29 524.40v-11M59.17 278.90v11M59.17 524.40v-11M78.06 278.90v11M78.06 524.40v-11M96.95 278.90v11M96.95 524.40v-11M115.84 278.90v11M115.84 524.40v-11M134.72 278.90v11M134.72 524.40v-11M153.61 278.90v11M153.61 524.40v-11M172.50 278.90v11M172.50 524.40v-11M191.38 278.90v11M191.38 524.40v-11M210.27 278.90v11M210.27 524.40v-11M229.16 278.90v11M229.16 524.40v-11M248.04 278.90v11M248.04 524.40v-11M266.93 278.90v11M266.93 524.40v-11M285.82 278.90v11M285.82 524.40v-11M304.70 278.90v11M304.70 524.40v-11M323.59 278.90v11M323.59 524.40v-11M342.48 278.90v11M342.48 524.40v-11M361.37 278.90v11M361.37 524.40v-11M380.25 278.90v11M380.25 524.40v-11M399.14 278.90v11M399.14 524.40v-11M418.03 278.90v11M418.03 524.40v-11M436.91 278.90v11M436.91 524.40v-11M455.80 278.90v11M455.80 524.40v-11M474.69 278.90v11M474.69 524.40v-11M493.57 278.90v11M493.57 524.40v-11M512.46 278.90v11M512.46 524.40v-11M531.35 278.90v11M531.35 524.40v-11M550.24 278.90v11M550.24 524.40v-11M569.12 278.90v11M569.12 524.40v-11M588.01 278.90v11M588.01 524.40v-11M606.90 278.90v11M606.90 524.40v-11M625.78 278.90v11M625.78 524.40v-11M644.67 278.90v11M644.67 524.40v-11M663.56 278.90v11M663.56 524.40v-11M682.45 278.90v11M682.45 524.40v-11M701.33 278.90v11M701.33 524.40v-11M720.22 278.90v11M720.22 524.40v-11M739.11 278.90v11M739.11 524.40v-11M757.99 278.90v11M757.99 524.40v-11M776.88 278.90v11M776.88 524.40v-11M795.77 278.90v11M795.77 524.40v-11M814.65 278.90v11M814.65 524.40v-11M833.54 278.90v11M833.54 524.40v-11M852.43 278.90v11M852.43 524.40v-11M871.31 278.90v11M871.31 524.40v-11M890.20 278.90v11M890.20 524.40v-11M909.09 278.90v11M909.09 524.40v-11M927.98 278.90v11M927.98 524.40v-11M946.86 278.90v11M946.86 524.40v-11M965.75 278.90v11M965.75 524.40v-11M984.64 278.90v11M984.64 524.40v-11M1003.52 278.90v11M1003.52 524.40v-11M1022.41 278.90v11M1022.41 524.40v-11M1041.30 278.90v11M1041.30 524.40v-11M1060.19 278.90v11M1060.19 524.40v-11M1079.07 278.90v11M1079.07 524.40v-11M1097.96 278.90v11M1097.96 524.40v-11M1116.85 278.90v11M1116.85 524.40v-11M1135.73 278.90v11M1135.73 524.40v-11M1154.62 278.90v11M1154.62 524.40v-11M1173.51 278.90v11M1173.51 524.40v-11M1192.39 278.90v11M1192.39 524.40v-11M16.50 471.10h11M1197.40 471.10h-11M16.50 410.80h11M1197.40 410.80h-11M16.50 350.50h11M1197.40 350.50h-11M16.50 290.20h11M1197.40 290.20h-11" stroke="#5a5a5a" stroke-width="0.9" fill="none"/>
<rect x="16.5" y="278.9" width="1180.9" height="245.5" fill="none" stroke="#7a7a7a" stroke-width="1"/>
<text x="9.6" y="478.10" class="yt">0</text>
<text x="9.6" y="417.80" class="yt">1</text>
<text x="9.6" y="357.50" class="yt">2</text>
<text x="9.6" y="297.20" class="yt">3</text>
<text x="609" y="301.9" class="ti">In-Strength</text>
<line x1="1084.4" x2="1121.7" y1="335.6" y2="335.6" stroke="#000" stroke-width="2.3"/>
<line x1="1084.4" x2="1121.7" y1="358.6" y2="358.6" stroke="#f00" stroke-width="2.3"/>
<text x="1125.2" y="341.9" class="lg">Mean</text>
<text x="1125.2" y="365.3" class="lg">Median</text>
<text transform="translate(28.70 532.4) rotate(-90)" class="xl">CRUDE-PETRO</text>
<text transform="translate(47.59 532.4) rotate(-90)" class="xl">CRUDE-BRENT</text>
<text transform="translate(66.47 532.4) rotate(-90)" class="xl">CRUDE-DUBAI</text>
<text transform="translate(85.36 532.4) rotate(-90)" class="xl">CRUDE-WTI</text>
<text transform="translate(104.25 532.4) rotate(-90)" class="xl">COAL-AUS</text>
<text transform="translate(123.14 532.4) rotate(-90)" class="xl">COAL-SAFRICA</text>
<text transform="translate(142.02 532.4) rotate(-90)" class="xl">NGAS-US</text>
<text transform="translate(160.91 532.4) rotate(-90)" class="xl">NGAS-EUR</text>
<text transform="translate(179.80 532.4) rotate(-90)" class="xl">NGAS-JP</text>
<text transform="translate(198.68 532.4) rotate(-90)" class="xl">iNATGAS</text>
<text transform="translate(217.57 532.4) rotate(-90)" class="xl">COCOA</text>
<text transform="translate(236.46 532.4) rotate(-90)" class="xl">COFFEE-ARABIC</text>
<text transform="translate(255.34 532.4) rotate(-90)" class="xl">COFFEE-ROBUS</text>
<text transform="translate(274.23 532.4) rotate(-90)" class="xl">TEA-AVG</text>
<text transform="translate(293.12 532.4) rotate(-90)" class="xl">TEA-COLOMBO</text>
<text transform="translate(312.00 532.4) rotate(-90)" class="xl">TEA-KOLKATA</text>
<text transform="translate(330.89 532.4) rotate(-90)" class="xl">TEA-MOMBASA</text>
<text transform="translate(349.78 532.4) rotate(-90)" class="xl">COCONUT-OIL</text>
<text transform="translate(368.67 532.4) rotate(-90)" class="xl">GRNUT</text>
<text transform="translate(387.55 532.4) rotate(-90)" class="xl">FISH-MEAL</text>
<text transform="translate(406.44 532.4) rotate(-90)" class="xl">GRNUT-OIL</text>
<text transform="translate(425.33 532.4) rotate(-90)" class="xl">PALM-OIL</text>
<text transform="translate(444.21 532.4) rotate(-90)" class="xl">SOYBEANS</text>
<text transform="translate(463.10 532.4) rotate(-90)" class="xl">SOYBEAN-OIL</text>
<text transform="translate(481.99 532.4) rotate(-90)" class="xl">SOYBEAN-MEAL</text>
<text transform="translate(500.88 532.4) rotate(-90)" class="xl">BARLEY</text>
<text transform="translate(519.76 532.4) rotate(-90)" class="xl">MAIZE</text>
<text transform="translate(538.65 532.4) rotate(-90)" class="xl">SORGHUM</text>
<text transform="translate(557.54 532.4) rotate(-90)" class="xl">RICE-05</text>
<text transform="translate(576.42 532.4) rotate(-90)" class="xl">RICE-25</text>
<text transform="translate(595.31 532.4) rotate(-90)" class="xl">RICE-A1</text>
<text transform="translate(614.20 532.4) rotate(-90)" class="xl">WHEAT-US-SRW</text>
<text transform="translate(633.08 532.4) rotate(-90)" class="xl">WHEAT-US-HRW</text>
<text transform="translate(651.97 532.4) rotate(-90)" class="xl">BANANA-US</text>
<text transform="translate(670.86 532.4) rotate(-90)" class="xl">ORANGE</text>
<text transform="translate(689.75 532.4) rotate(-90)" class="xl">BEEF</text>
<text transform="translate(708.63 532.4) rotate(-90)" class="xl">CHICKEN</text>
<text transform="translate(727.52 532.4) rotate(-90)" class="xl">SHRIMP-MEX</text>
<text transform="translate(746.41 532.4) rotate(-90)" class="xl">SUGAR-EU</text>
<text transform="translate(765.29 532.4) rotate(-90)" class="xl">SUGAR-US</text>
<text transform="translate(784.18 532.4) rotate(-90)" class="xl">SUGAR-WLD</text>
<text transform="translate(803.07 532.4) rotate(-90)" class="xl">TOBAC-US</text>
<text transform="translate(821.95 532.4) rotate(-90)" class="xl">LOGS-CMR</text>
<text transform="translate(840.84 532.4) rotate(-90)" class="xl">LOGS-MYS</text>
<text transform="translate(859.73 532.4) rotate(-90)" class="xl">SAWNWD-MYS</text>
<text transform="translate(878.61 532.4) rotate(-90)" class="xl">PLYWOOD</text>
<text transform="translate(897.50 532.4) rotate(-90)" class="xl">COTTON-A-INDX</text>
<text transform="translate(916.39 532.4) rotate(-90)" class="xl">RUBBER1-MYSG</text>
<text transform="translate(935.28 532.4) rotate(-90)" class="xl">PHOSROCK</text>
<text transform="translate(954.16 532.4) rotate(-90)" class="xl">DAP</text>
<text transform="translate(973.05 532.4) rotate(-90)" class="xl">TSP</text>
<text transform="translate(991.94 532.4) rotate(-90)" class="xl">UREA-EE-BULK</text>
<text transform="translate(1010.82 532.4) rotate(-90)" class="xl">POTASH</text>
<text transform="translate(1029.71 532.4) rotate(-90)" class="xl">ALUMINUM</text>
<text transform="translate(1048.60 532.4) rotate(-90)" class="xl">IRON-ORE</text>
<text transform="translate(1067.49 532.4) rotate(-90)" class="xl">COPPER</text>
<text transform="translate(1086.37 532.4) rotate(-90)" class="xl">LEAD</text>
<text transform="translate(1105.26 532.4) rotate(-90)" class="xl">Tin</text>
<text transform="translate(1124.15 532.4) rotate(-90)" class="xl">NICKEL</text>
<text transform="translate(1143.03 532.4) rotate(-90)" class="xl">Zinc</text>
<text transform="translate(1161.92 532.4) rotate(-90)" class="xl">GOLD</text>
<text transform="translate(1180.81 532.4) rotate(-90)" class="xl">PLATINUM</text>
<text transform="translate(1199.69 532.4) rotate(-90)" class="xl">SILVER</text>
</svg>
</body></html>
